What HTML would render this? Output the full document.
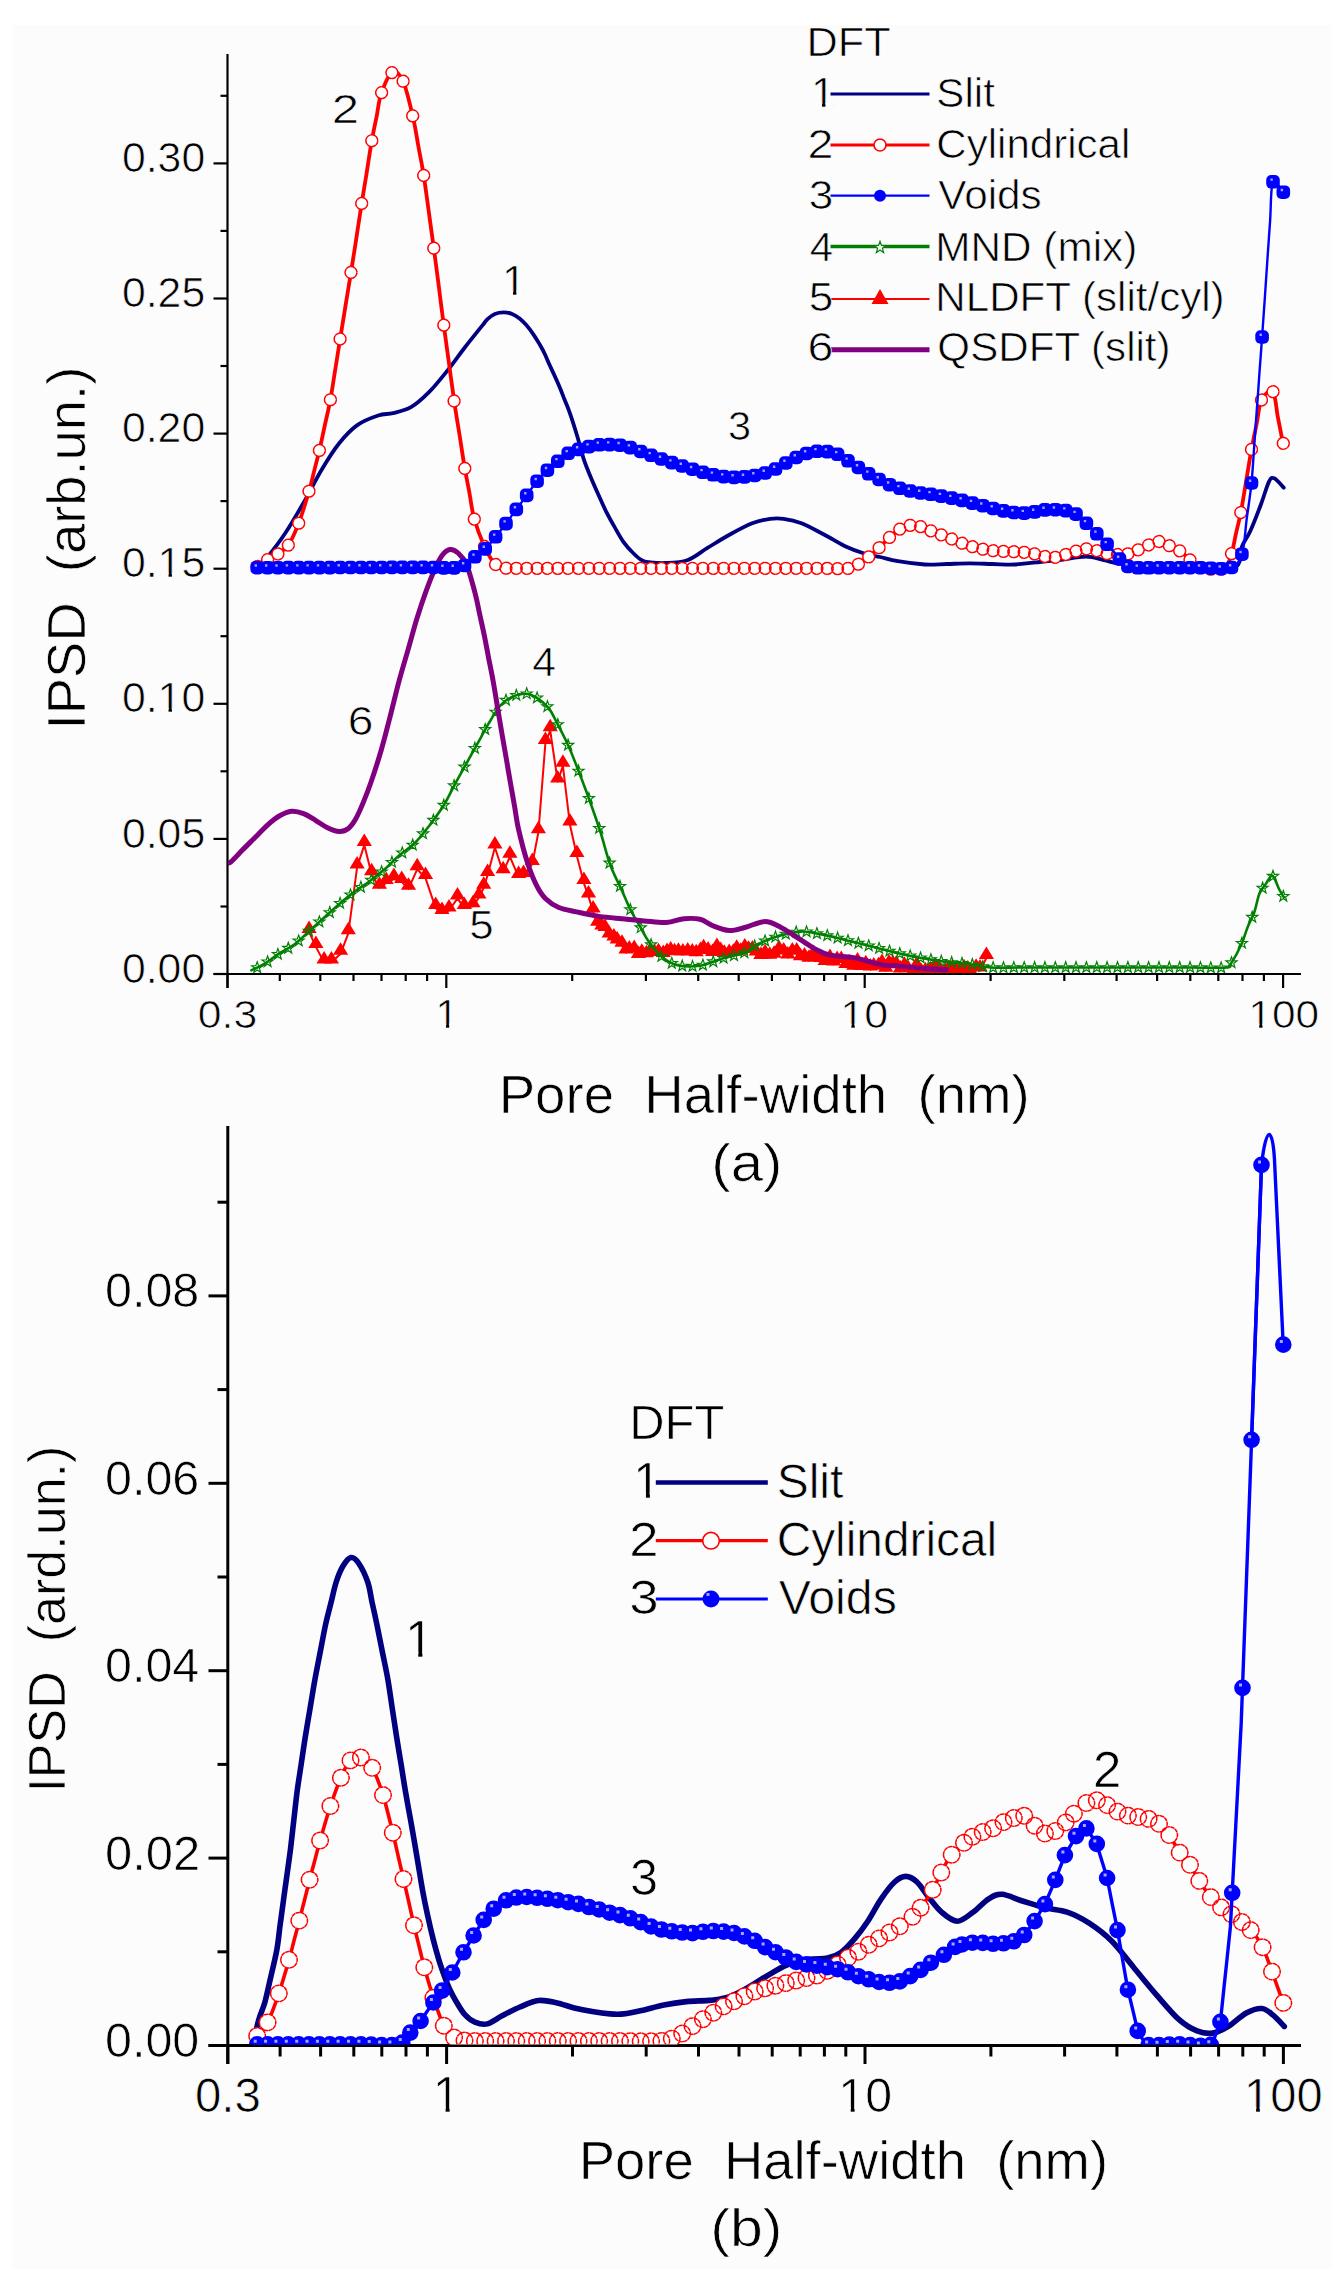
<!DOCTYPE html>
<html><head><meta charset="utf-8"><title>IPSD</title>
<style>html,body{margin:0;padding:0;background:#fff;}svg{display:block;}text{font-family:"Liberation Sans",sans-serif;}</style>
</head><body>
<svg width="1340" height="2284" viewBox="0 0 1340 2284">
<defs><clipPath id="cpT"><rect x="228" y="40" width="1080" height="933"/></clipPath><clipPath id="cpB"><rect x="228" y="1100" width="1080" height="944.5"/></clipPath></defs>
<rect width="1340" height="2284" fill="#ffffff"/>
<rect x="12" y="25" width="1320" height="2244" fill="#fcfcfd"/>
<g stroke="#000" stroke-width="2.2" fill="none" stroke-linecap="butt">
<path d="M227.5,54 L227.5,988"/>
<path d="M213.5,974 L1301,974"/>
<path d="M213.5,974.0 L227.5,974.0"/>
<path d="M213.5,838.9 L227.5,838.9"/>
<path d="M213.5,703.8 L227.5,703.8"/>
<path d="M213.5,568.7 L227.5,568.7"/>
<path d="M213.5,433.6 L227.5,433.6"/>
<path d="M213.5,298.5 L227.5,298.5"/>
<path d="M213.5,163.4 L227.5,163.4"/>
<path d="M220.5,906.5 L227.5,906.5"/>
<path d="M220.5,771.3 L227.5,771.3"/>
<path d="M220.5,636.2 L227.5,636.2"/>
<path d="M220.5,501.1 L227.5,501.1"/>
<path d="M220.5,366.0 L227.5,366.0"/>
<path d="M220.5,230.9 L227.5,230.9"/>
<path d="M220.5,95.8 L227.5,95.8"/>
<path d="M227.5,974 L227.5,988"/>
<path d="M446.3,974 L446.3,988"/>
<path d="M864.7,974 L864.7,988"/>
<path d="M1283.1,974 L1283.1,988"/>
<path d="M279.8,974 L279.8,981"/>
<path d="M320.3,974 L320.3,981"/>
<path d="M353.5,974 L353.5,981"/>
<path d="M381.5,974 L381.5,981"/>
<path d="M405.7,974 L405.7,981"/>
<path d="M427.1,974 L427.1,981"/>
<path d="M572.2,974 L572.2,981"/>
<path d="M645.9,974 L645.9,981"/>
<path d="M698.2,974 L698.2,981"/>
<path d="M738.7,974 L738.7,981"/>
<path d="M771.9,974 L771.9,981"/>
<path d="M799.9,974 L799.9,981"/>
<path d="M824.1,974 L824.1,981"/>
<path d="M845.5,974 L845.5,981"/>
<path d="M990.6,974 L990.6,981"/>
<path d="M1064.3,974 L1064.3,981"/>
<path d="M1116.6,974 L1116.6,981"/>
<path d="M1157.1,974 L1157.1,981"/>
<path d="M1190.3,974 L1190.3,981"/>
<path d="M1218.3,974 L1218.3,981"/>
<path d="M1242.5,974 L1242.5,981"/>
<path d="M1263.9,974 L1263.9,981"/>
</g>
<path d="M830.5,94.0 L929.5,94.0" stroke="#000080" stroke-width="3.2"/>
<path d="M830.5,145.0 L929.5,145.0" stroke="#ff0000" stroke-width="3.2"/>
<circle cx="880" cy="145" r="6" fill="#fff" stroke="#ff0000" stroke-width="1.6"/>
<path d="M830.5,195.7 L929.5,195.7" stroke="#0000ff" stroke-width="2.2"/>
<circle cx="880" cy="195.7" r="6" fill="#0000ff"/>
<path d="M830.5,246.5 L929.5,246.5" stroke="#008000" stroke-width="3.6"/>
<path d="M880.0,241.3 L881.5,245.5 L885.9,245.6 L882.4,248.3 L883.6,252.5 L880.0,250.0 L876.4,252.5 L877.6,248.3 L874.1,245.6 L878.5,245.5Z" fill="#fff" stroke="#008000" stroke-width="1.2"/>
<path d="M830.5,299.0 L929.5,299.0" stroke="#ff0000" stroke-width="2.2"/>
<path d="M880,289 L888.5,304 L871.5,304 Z" fill="#ff0000"/>
<path d="M830.5,349.7 L929.5,349.7" stroke="#800080" stroke-width="5.0"/>
<g clip-path="url(#cpT)" fill="none" stroke-linejoin="round" stroke-linecap="round">
<path d="M309.1,931.9 L315.9,946.9 L324.1,962.4 L331.4,962.4 L340.6,953.7 L348.3,933.3 L357.1,867.4 L364.3,845.1 L371.6,874.2 L379.4,887.8 L386.2,882.9 L393.9,879.0 L401.7,881.9 L408.5,888.7 L417.2,869.3 L425.5,878.1 L435.7,908.1 L442.0,913.0 L449.0,910.5 L457.5,898.4 L464.3,908.1 L473.0,906.2 L478.9,897.5 L483.7,887.8 L487.6,875.1 L494.9,847.5 L503.1,872.2 L509.9,856.7 L518.6,877.1 L523.5,876.1 L532.3,863.9 L538.4,832.3 L545.4,743.0 L550.2,730.3 L557.7,781.5 L562.9,765.8 L569.9,824.5 L576.9,856.0 L583.9,883.1 L588.5,896.4 L593.1,911.4 L597.6,924.8 L601.8,928.6 L605.1,930.1 L609.2,936.6 L613.9,939.4 L617.2,942.4 L622.0,945.8 L626.0,952.5 L629.3,951.5 L634.2,950.9 L638.4,957.0 L641.8,954.7 L646.4,956.3 L650.4,953.5 L654.5,955.0 L658.5,954.2 L663.2,956.1 L667.0,954.1 L670.7,952.5 L674.5,954.3 L678.4,953.7 L682.9,954.4 L687.7,953.5 L692.3,954.5 L696.2,955.3 L700.4,953.0 L703.6,950.2 L708.1,952.5 L712.5,955.1 L716.9,949.0 L720.7,952.9 L724.3,955.7 L729.2,955.0 L733.3,954.7 L736.7,950.8 L740.7,953.7 L744.8,949.5 L748.6,951.7 L752.4,951.5 L756.3,954.4 L760.9,958.0 L765.1,955.2 L769.7,957.7 L774.1,956.7 L779.0,951.3 L783.7,953.4 L787.8,957.5 L792.3,953.4 L796.7,953.4 L800.5,959.3 L804.5,958.4 L809.0,960.7 L813.6,955.9 L817.5,959.9 L820.8,961.1 L825.1,964.0 L830.0,960.1 L833.6,964.5 L837.1,961.9 L841.3,961.9 L845.9,967.1 L849.2,965.2 L853.8,968.7 L857.5,963.4 L862.3,969.1 L865.8,966.2 L870.3,969.5 L873.8,968.6 L878.5,968.3 L882.0,965.0 L885.7,970.8 L889.0,965.6 L892.8,966.3 L896.3,966.4 L900.4,971.5 L904.4,967.8 L908.2,971.2 L913.1,974.2 L916.7,967.5 L921.4,974.2 L925.4,973.3 L930.2,972.4 L935.0,968.6 L938.7,970.5 L942.1,975.2 L945.3,973.7 L948.7,971.5 L952.6,970.3 L956.8,972.7 L960.5,974.2 L964.0,970.3 L967.8,971.6 L971.4,975.4 L976.1,969.7 L980.0,970.6 L986.4,958.0" stroke="#ff0000" stroke-width="2"/>
<path d="M309.1,920.4L316.7,932.9L301.5,932.9ZM315.9,935.4L323.5,947.9L308.3,947.9ZM324.1,950.9L331.7,963.4L316.5,963.4ZM331.4,950.9L339.0,963.4L323.8,963.4ZM340.6,942.2L348.2,954.7L333.0,954.7ZM348.3,921.8L355.9,934.3L340.7,934.3ZM357.1,855.9L364.7,868.4L349.5,868.4ZM364.3,833.6L371.9,846.1L356.7,846.1ZM371.6,862.7L379.2,875.2L364.0,875.2ZM379.4,876.3L387.0,888.8L371.8,888.8ZM386.2,871.4L393.8,883.9L378.6,883.9ZM393.9,867.5L401.5,880.0L386.3,880.0ZM401.7,870.4L409.3,882.9L394.1,882.9ZM408.5,877.2L416.1,889.7L400.9,889.7ZM417.2,857.8L424.8,870.3L409.6,870.3ZM425.5,866.6L433.1,879.1L417.9,879.1ZM435.7,896.6L443.3,909.1L428.1,909.1ZM442.0,901.5L449.6,914.0L434.4,914.0ZM449.0,899.0L456.6,911.5L441.4,911.5ZM457.5,886.9L465.1,899.4L449.9,899.4ZM464.3,896.6L471.9,909.1L456.7,909.1ZM473.0,894.7L480.6,907.2L465.4,907.2ZM478.9,886.0L486.5,898.5L471.3,898.5ZM483.7,876.3L491.3,888.8L476.1,888.8ZM487.6,863.6L495.2,876.1L480.0,876.1ZM494.9,836.0L502.5,848.5L487.3,848.5ZM503.1,860.7L510.7,873.2L495.5,873.2ZM509.9,845.2L517.5,857.7L502.3,857.7ZM518.6,865.6L526.2,878.1L511.0,878.1ZM523.5,864.6L531.1,877.1L515.9,877.1ZM532.3,852.4L539.9,864.9L524.7,864.9ZM538.4,820.8L546.0,833.3L530.8,833.3ZM545.4,731.5L553.0,744.0L537.8,744.0ZM550.2,718.8L557.8,731.3L542.6,731.3ZM557.7,770.0L565.3,782.5L550.1,782.5ZM562.9,754.3L570.5,766.8L555.3,766.8ZM569.9,813.0L577.5,825.5L562.3,825.5ZM576.9,844.5L584.5,857.0L569.3,857.0ZM583.9,871.6L591.5,884.1L576.3,884.1ZM588.5,884.9L596.1,897.4L580.9,897.4ZM593.1,899.9L600.7,912.4L585.5,912.4ZM597.6,913.3L605.2,925.8L590.0,925.8ZM601.8,917.1L609.4,929.6L594.2,929.6ZM605.1,918.6L612.7,931.1L597.5,931.1ZM609.2,925.1L616.8,937.6L601.6,937.6ZM613.9,927.9L621.5,940.4L606.3,940.4ZM617.2,930.9L624.8,943.4L609.6,943.4ZM622.0,934.3L629.6,946.8L614.4,946.8ZM626.0,941.0L633.6,953.5L618.4,953.5ZM629.3,940.0L636.9,952.5L621.7,952.5ZM634.2,939.4L641.8,951.9L626.6,951.9ZM638.4,945.5L646.0,958.0L630.8,958.0ZM641.8,943.2L649.4,955.7L634.2,955.7ZM646.4,944.8L654.0,957.3L638.8,957.3ZM650.4,942.0L658.0,954.5L642.8,954.5ZM654.5,943.5L662.1,956.0L646.9,956.0ZM658.5,942.7L666.1,955.2L650.9,955.2ZM663.2,944.6L670.8,957.1L655.6,957.1ZM667.0,942.6L674.6,955.1L659.4,955.1ZM670.7,941.0L678.3,953.5L663.1,953.5ZM674.5,942.8L682.1,955.3L666.9,955.3ZM678.4,942.2L686.0,954.7L670.8,954.7ZM682.9,942.9L690.5,955.4L675.3,955.4ZM687.7,942.0L695.3,954.5L680.1,954.5ZM692.3,943.0L699.9,955.5L684.7,955.5ZM696.2,943.8L703.8,956.3L688.6,956.3ZM700.4,941.5L708.0,954.0L692.8,954.0ZM703.6,938.7L711.2,951.2L696.0,951.2ZM708.1,941.0L715.7,953.5L700.5,953.5ZM712.5,943.6L720.1,956.1L704.9,956.1ZM716.9,937.5L724.5,950.0L709.3,950.0ZM720.7,941.4L728.3,953.9L713.1,953.9ZM724.3,944.2L731.9,956.7L716.7,956.7ZM729.2,943.5L736.8,956.0L721.6,956.0ZM733.3,943.2L740.9,955.7L725.7,955.7ZM736.7,939.3L744.3,951.8L729.1,951.8ZM740.7,942.2L748.3,954.7L733.1,954.7ZM744.8,938.0L752.4,950.5L737.2,950.5ZM748.6,940.2L756.2,952.7L741.0,952.7ZM752.4,940.0L760.0,952.5L744.8,952.5ZM756.3,942.9L763.9,955.4L748.7,955.4ZM760.9,946.5L768.5,959.0L753.3,959.0ZM765.1,943.7L772.7,956.2L757.5,956.2ZM769.7,946.2L777.3,958.7L762.1,958.7ZM774.1,945.2L781.7,957.7L766.5,957.7ZM779.0,939.8L786.6,952.3L771.4,952.3ZM783.7,941.9L791.3,954.4L776.1,954.4ZM787.8,946.0L795.4,958.5L780.2,958.5ZM792.3,941.9L799.9,954.4L784.7,954.4ZM796.7,941.9L804.3,954.4L789.1,954.4ZM800.5,947.8L808.1,960.3L792.9,960.3ZM804.5,946.9L812.1,959.4L796.9,959.4ZM809.0,949.2L816.6,961.7L801.4,961.7ZM813.6,944.4L821.2,956.9L806.0,956.9ZM817.5,948.4L825.1,960.9L809.9,960.9ZM820.8,949.6L828.4,962.1L813.2,962.1ZM825.1,952.5L832.7,965.0L817.5,965.0ZM830.0,948.6L837.6,961.1L822.4,961.1ZM833.6,953.0L841.2,965.5L826.0,965.5ZM837.1,950.4L844.7,962.9L829.5,962.9ZM841.3,950.4L848.9,962.9L833.7,962.9ZM845.9,955.6L853.5,968.1L838.3,968.1ZM849.2,953.7L856.8,966.2L841.6,966.2ZM853.8,957.2L861.4,969.7L846.2,969.7ZM857.5,951.9L865.1,964.4L849.9,964.4ZM862.3,957.6L869.9,970.1L854.7,970.1ZM865.8,954.7L873.4,967.2L858.2,967.2ZM870.3,958.0L877.9,970.5L862.7,970.5ZM873.8,957.1L881.4,969.6L866.2,969.6ZM878.5,956.8L886.1,969.3L870.9,969.3ZM882.0,953.5L889.6,966.0L874.4,966.0ZM885.7,959.3L893.3,971.8L878.1,971.8ZM889.0,954.1L896.6,966.6L881.4,966.6ZM892.8,954.8L900.4,967.3L885.2,967.3ZM896.3,954.9L903.9,967.4L888.7,967.4ZM900.4,960.0L908.0,972.5L892.8,972.5ZM904.4,956.3L912.0,968.8L896.8,968.8ZM908.2,959.7L915.8,972.2L900.6,972.2ZM913.1,962.7L920.7,975.2L905.5,975.2ZM916.7,956.0L924.3,968.5L909.1,968.5ZM921.4,962.7L929.0,975.2L913.8,975.2ZM925.4,961.8L933.0,974.3L917.8,974.3ZM930.2,960.9L937.8,973.4L922.6,973.4ZM935.0,957.1L942.6,969.6L927.4,969.6ZM938.7,959.0L946.3,971.5L931.1,971.5ZM942.1,963.7L949.7,976.2L934.5,976.2ZM945.3,962.2L952.9,974.7L937.7,974.7ZM948.7,960.0L956.3,972.5L941.1,972.5ZM952.6,958.8L960.2,971.3L945.0,971.3ZM956.8,961.2L964.4,973.7L949.2,973.7ZM960.5,962.7L968.1,975.2L952.9,975.2ZM964.0,958.8L971.6,971.3L956.4,971.3ZM967.8,960.1L975.4,972.6L960.2,972.6ZM971.4,963.9L979.0,976.4L963.8,976.4ZM976.1,958.2L983.7,970.7L968.5,970.7ZM980.0,959.1L987.6,971.6L972.4,971.6ZM986.4,946.5L994.0,959.0L978.8,959.0Z" fill="#ff0000" stroke="none"/>
<path d="M251.3,970.3 C253.6,969.2 260.1,966.5 264.8,963.6 C269.5,960.7 274.7,956.3 279.7,953.1 C284.7,949.9 289.6,947.9 294.6,944.2 C299.6,940.5 304.6,935.2 309.6,930.7 C314.6,926.2 319.5,921.8 324.5,917.3 C329.5,912.8 334.4,908.1 339.4,903.9 C344.4,899.7 349.3,895.6 354.3,891.9 C359.3,888.2 364.3,885.2 369.3,881.5 C374.3,877.8 379.2,873.9 384.2,869.6 C389.2,865.3 394.0,859.9 399.1,855.5 C404.2,851.1 409.6,848.2 414.8,843.0 C420.0,837.8 425.5,830.5 430.4,824.2 C435.2,817.9 439.8,811.7 443.9,805.0 C448.0,798.3 451.4,790.8 455.1,783.9 C458.8,777.0 462.6,770.4 466.3,763.7 C470.0,757.0 473.8,750.3 477.5,743.6 C481.2,736.9 484.9,729.8 488.7,723.4 C492.5,717.0 496.6,709.9 500.3,705.5 C504.0,701.1 506.9,699.3 511.1,697.3 C515.3,695.3 521.2,693.7 525.4,693.7 C529.6,693.7 532.2,694.9 536.1,697.3 C540.0,699.7 545.1,703.6 548.7,708.1 C552.3,712.6 554.3,717.9 557.6,724.2 C560.9,730.5 564.8,737.7 568.4,745.7 C572.0,753.8 575.5,763.2 579.1,772.5 C582.7,781.8 586.3,791.2 589.9,801.2 C593.5,811.2 597.2,821.9 600.6,832.5 C604.0,843.1 606.8,855.5 610.3,865.0 C613.8,874.5 618.1,882.1 621.5,889.6 C624.9,897.1 627.4,903.7 630.4,909.7 C633.4,915.7 636.4,920.2 639.4,925.4 C642.4,930.6 644.7,935.8 648.4,941.0 C652.1,946.2 656.9,952.7 661.8,956.7 C666.6,960.7 671.1,963.7 677.5,965.2 C683.9,966.7 692.4,966.8 699.9,965.7 C707.4,964.6 714.9,960.7 722.4,958.5 C729.9,956.3 738.8,954.9 744.8,952.5 C750.8,950.1 752.6,946.7 758.2,944.0 C763.8,941.3 771.3,938.2 778.4,936.1 C785.5,934.0 794.0,932.0 800.7,931.6 C807.4,931.2 813.1,933.0 818.7,933.9 C824.3,934.8 828.0,935.7 834.3,937.2 C840.6,938.7 849.2,940.9 856.7,942.8 C864.2,944.7 871.6,946.5 879.1,948.4 C886.6,950.3 894.0,952.3 901.5,954.0 C909.0,955.7 916.4,957.2 923.9,958.5 C931.4,959.8 938.8,961.0 946.3,961.9 C953.8,962.8 961.2,963.1 968.7,964.0 C976.2,964.9 982.5,966.9 991.0,967.5 C999.5,968.1 1009.4,967.5 1020.0,967.5 C1030.6,967.5 1042.9,967.5 1054.4,967.5 C1065.9,967.5 1077.3,967.5 1088.8,967.5 C1100.3,967.5 1111.7,967.5 1123.2,967.5 C1134.7,967.5 1146.1,967.5 1157.6,967.5 C1169.1,967.5 1180.5,967.5 1192.0,967.5 C1203.5,967.5 1219.8,968.3 1226.4,967.5 C1233.0,966.7 1228.9,966.7 1231.4,962.9 C1233.9,959.1 1238.5,950.8 1241.2,944.8 C1243.9,938.8 1245.6,932.2 1247.8,926.7 C1250.0,921.2 1252.5,917.5 1254.4,912.0 C1256.3,906.5 1257.4,898.6 1259.3,893.9 C1261.2,889.2 1263.6,887.0 1265.8,884.0 C1268.0,881.0 1270.2,875.0 1272.4,875.8 C1274.6,876.6 1277.1,885.4 1279.0,889.0 C1280.9,892.6 1283.1,895.8 1283.9,897.2" stroke="#008000" stroke-width="2.6"/>
<path d="M257.2,961.8 L258.6,965.7 L262.7,965.8 L259.4,968.3 L260.6,972.3 L257.2,969.9 L253.8,972.3 L255.0,968.3 L251.7,965.8 L255.8,965.7ZM267.6,956.0 L268.9,959.9 L273.1,960.0 L269.8,962.5 L271.0,966.5 L267.6,964.1 L264.2,966.5 L265.4,962.5 L262.0,960.0 L266.2,959.9ZM277.9,948.5 L279.3,952.4 L283.4,952.5 L280.1,955.0 L281.3,959.0 L277.9,956.6 L274.5,959.0 L275.7,955.0 L272.4,952.5 L276.6,952.4ZM288.3,942.4 L289.7,946.3 L293.8,946.4 L290.5,948.9 L291.7,952.9 L288.3,950.5 L284.9,952.9 L286.1,948.9 L282.8,946.4 L286.9,946.3ZM298.7,935.1 L300.0,939.0 L304.2,939.1 L300.9,941.6 L302.1,945.6 L298.7,943.2 L295.3,945.6 L296.5,941.6 L293.1,939.1 L297.3,939.0ZM309.0,925.4 L310.4,929.3 L314.5,929.4 L311.2,931.9 L312.4,935.9 L309.0,933.5 L305.6,935.9 L306.8,931.9 L303.5,929.4 L307.7,929.3ZM319.4,916.1 L320.8,920.0 L324.9,920.1 L321.6,922.6 L322.8,926.6 L319.4,924.2 L316.0,926.6 L317.2,922.6 L313.9,920.1 L318.0,920.0ZM329.8,906.7 L331.1,910.6 L335.3,910.7 L332.0,913.2 L333.2,917.2 L329.8,914.8 L326.3,917.2 L327.5,913.2 L324.2,910.7 L328.4,910.6ZM340.1,897.5 L341.5,901.4 L345.6,901.5 L342.3,904.0 L343.5,908.0 L340.1,905.6 L336.7,908.0 L337.9,904.0 L334.6,901.5 L338.8,901.4ZM350.5,889.0 L351.8,892.9 L356.0,893.0 L352.7,895.5 L353.9,899.5 L350.5,897.1 L347.1,899.5 L348.3,895.5 L345.0,893.0 L349.1,892.9ZM360.9,881.5 L362.2,885.5 L366.4,885.5 L363.1,888.0 L364.3,892.0 L360.9,889.6 L357.4,892.0 L358.6,888.0 L355.3,885.5 L359.5,885.5ZM371.2,874.3 L372.6,878.2 L376.7,878.3 L373.4,880.8 L374.6,884.8 L371.2,882.4 L367.8,884.8 L369.0,880.8 L365.7,878.3 L369.9,878.2ZM381.6,866.0 L382.9,870.0 L387.1,870.1 L383.8,872.6 L385.0,876.5 L381.6,874.2 L378.2,876.5 L379.4,872.6 L376.1,870.1 L380.2,870.0ZM391.9,856.4 L393.3,860.4 L397.5,860.5 L394.2,863.0 L395.4,866.9 L391.9,864.6 L388.5,866.9 L389.7,863.0 L386.4,860.5 L390.6,860.4ZM402.3,847.1 L403.7,851.0 L407.8,851.1 L404.5,853.6 L405.7,857.6 L402.3,855.2 L398.9,857.6 L400.1,853.6 L396.8,851.1 L400.9,851.0ZM412.7,839.2 L414.0,843.1 L418.2,843.2 L414.9,845.7 L416.1,849.7 L412.7,847.3 L409.3,849.7 L410.5,845.7 L407.2,843.2 L411.3,843.1ZM423.0,827.8 L424.4,831.8 L428.6,831.9 L425.2,834.4 L426.4,838.3 L423.0,836.0 L419.6,838.3 L420.8,834.4 L417.5,831.9 L421.7,831.8ZM433.4,814.4 L434.8,818.4 L438.9,818.4 L435.6,821.0 L436.8,824.9 L433.4,822.6 L430.0,824.9 L431.2,821.0 L427.9,818.4 L432.0,818.4ZM443.8,799.4 L445.1,803.3 L449.3,803.4 L446.0,805.9 L447.2,809.9 L443.8,807.5 L440.4,809.9 L441.6,805.9 L438.3,803.4 L442.4,803.3ZM454.1,779.9 L455.5,783.8 L459.7,783.9 L456.3,786.4 L457.5,790.4 L454.1,788.0 L450.7,790.4 L451.9,786.4 L448.6,783.9 L452.8,783.8ZM464.5,761.1 L465.9,765.1 L470.0,765.1 L466.7,767.6 L467.9,771.6 L464.5,769.3 L461.1,771.6 L462.3,767.6 L459.0,765.1 L463.1,765.1ZM474.9,742.5 L476.2,746.5 L480.4,746.5 L477.1,749.1 L478.3,753.0 L474.9,750.7 L471.5,753.0 L472.7,749.1 L469.3,746.5 L473.5,746.5ZM485.2,723.6 L486.6,727.6 L490.7,727.6 L487.4,730.2 L488.6,734.1 L485.2,731.8 L481.8,734.1 L483.0,730.2 L479.7,727.6 L483.9,727.6ZM495.6,706.2 L497.0,710.1 L501.1,710.2 L497.8,712.7 L499.0,716.7 L495.6,714.3 L492.2,716.7 L493.4,712.7 L490.1,710.2 L494.2,710.1ZM506.0,694.4 L507.3,698.3 L511.5,698.4 L508.2,700.9 L509.4,704.9 L506.0,702.5 L502.6,704.9 L503.8,700.9 L500.4,698.4 L504.6,698.3ZM516.3,689.5 L517.7,693.4 L521.8,693.5 L518.5,696.0 L519.7,700.0 L516.3,697.6 L512.9,700.0 L514.1,696.0 L510.8,693.5 L515.0,693.4ZM526.7,687.9 L528.1,691.9 L532.2,692.0 L528.9,694.5 L530.1,698.4 L526.7,696.1 L523.3,698.4 L524.5,694.5 L521.2,692.0 L525.3,691.9ZM537.1,692.1 L538.4,696.0 L542.6,696.1 L539.3,698.6 L540.5,702.6 L537.1,700.2 L533.6,702.6 L534.8,698.6 L531.5,696.1 L535.7,696.0ZM547.4,700.8 L548.8,704.7 L552.9,704.8 L549.6,707.3 L550.8,711.3 L547.4,708.9 L544.0,711.3 L545.2,707.3 L541.9,704.8 L546.1,704.7ZM557.8,718.8 L559.1,722.7 L563.3,722.8 L560.0,725.3 L561.2,729.2 L557.8,726.9 L554.4,729.2 L555.6,725.3 L552.3,722.8 L556.4,722.7ZM568.1,739.3 L569.5,743.3 L573.7,743.4 L570.4,745.9 L571.6,749.8 L568.1,747.5 L564.7,749.8 L565.9,745.9 L562.6,743.4 L566.8,743.3ZM578.5,765.2 L579.9,769.1 L584.0,769.2 L580.7,771.7 L581.9,775.7 L578.5,773.3 L575.1,775.7 L576.3,771.7 L573.0,769.2 L577.2,769.1ZM588.9,792.6 L590.2,796.5 L594.4,796.6 L591.1,799.1 L592.3,803.1 L588.9,800.7 L585.5,803.1 L586.7,799.1 L583.4,796.6 L587.5,796.5ZM599.2,822.5 L600.6,826.4 L604.8,826.5 L601.5,829.0 L602.7,833.0 L599.2,830.6 L595.8,833.0 L597.0,829.0 L593.7,826.5 L597.9,826.4ZM609.6,857.2 L611.0,861.2 L615.1,861.2 L611.8,863.8 L613.0,867.7 L609.6,865.4 L606.2,867.7 L607.4,863.8 L604.1,861.2 L608.2,861.2ZM620.0,880.5 L621.3,884.5 L625.5,884.5 L622.2,887.0 L623.4,891.0 L620.0,888.6 L616.6,891.0 L617.8,887.0 L614.5,884.5 L618.6,884.5ZM630.3,903.8 L631.7,907.7 L635.9,907.8 L632.5,910.3 L633.7,914.3 L630.3,911.9 L626.9,914.3 L628.1,910.3 L624.8,907.8 L629.0,907.7ZM640.7,921.9 L642.1,925.9 L646.2,925.9 L642.9,928.5 L644.1,932.4 L640.7,930.1 L637.3,932.4 L638.5,928.5 L635.2,925.9 L639.3,925.9ZM651.1,938.9 L652.4,942.8 L656.6,942.9 L653.3,945.4 L654.5,949.4 L651.1,947.0 L647.7,949.4 L648.9,945.4 L645.6,942.9 L649.7,942.8ZM661.4,950.6 L662.8,954.5 L667.0,954.6 L663.6,957.1 L664.8,961.1 L661.4,958.7 L658.0,961.1 L659.2,957.1 L655.9,954.6 L660.1,954.5ZM671.8,957.5 L673.2,961.4 L677.3,961.5 L674.0,964.0 L675.2,968.0 L671.8,965.6 L668.4,968.0 L669.6,964.0 L666.3,961.5 L670.4,961.4ZM682.2,960.2 L683.5,964.1 L687.7,964.2 L684.4,966.7 L685.6,970.7 L682.2,968.3 L678.8,970.7 L680.0,966.7 L676.6,964.2 L680.8,964.1ZM692.5,960.6 L693.9,964.5 L698.0,964.6 L694.7,967.1 L695.9,971.1 L692.5,968.7 L689.1,971.1 L690.3,967.1 L687.0,964.6 L691.2,964.5ZM702.9,959.3 L704.3,963.2 L708.4,963.3 L705.1,965.8 L706.3,969.8 L702.9,967.4 L699.5,969.8 L700.7,965.8 L697.4,963.3 L701.5,963.2ZM713.3,955.9 L714.6,959.8 L718.8,959.9 L715.5,962.4 L716.7,966.4 L713.3,964.0 L709.9,966.4 L711.1,962.4 L707.7,959.9 L711.9,959.8ZM723.6,952.4 L725.0,956.3 L729.1,956.4 L725.8,958.9 L727.0,962.8 L723.6,960.5 L720.2,962.8 L721.4,958.9 L718.1,956.4 L722.3,956.3ZM734.0,949.8 L735.4,953.7 L739.5,953.8 L736.2,956.3 L737.4,960.3 L734.0,957.9 L730.6,960.3 L731.8,956.3 L728.5,953.8 L732.6,953.7ZM744.4,946.9 L745.7,950.8 L749.9,950.9 L746.6,953.4 L747.8,957.4 L744.4,955.0 L740.9,957.4 L742.1,953.4 L738.8,950.9 L743.0,950.8ZM754.7,940.2 L756.1,944.2 L760.2,944.3 L756.9,946.8 L758.1,950.7 L754.7,948.4 L751.3,950.7 L752.5,946.8 L749.2,944.3 L753.4,944.2ZM765.1,935.1 L766.4,939.0 L770.6,939.1 L767.3,941.6 L768.5,945.6 L765.1,943.2 L761.7,945.6 L762.9,941.6 L759.6,939.1 L763.7,939.0ZM775.5,931.2 L776.8,935.1 L781.0,935.2 L777.7,937.7 L778.9,941.7 L775.5,939.3 L772.0,941.7 L773.2,937.7 L769.9,935.2 L774.1,935.1ZM785.8,928.3 L787.2,932.2 L791.3,932.3 L788.0,934.8 L789.2,938.8 L785.8,936.4 L782.4,938.8 L783.6,934.8 L780.3,932.3 L784.5,932.2ZM796.2,926.3 L797.5,930.2 L801.7,930.3 L798.4,932.8 L799.6,936.7 L796.2,934.4 L792.8,936.7 L794.0,932.8 L790.7,930.3 L794.8,930.2ZM806.5,926.0 L807.9,929.9 L812.1,930.0 L808.8,932.5 L810.0,936.5 L806.5,934.1 L803.1,936.5 L804.3,932.5 L801.0,930.0 L805.2,929.9ZM816.9,927.8 L818.3,931.7 L822.4,931.8 L819.1,934.3 L820.3,938.3 L816.9,935.9 L813.5,938.3 L814.7,934.3 L811.4,931.8 L815.5,931.7ZM827.3,929.8 L828.6,933.7 L832.8,933.8 L829.5,936.3 L830.7,940.3 L827.3,937.9 L823.9,940.3 L825.1,936.3 L821.8,933.8 L825.9,933.7ZM837.6,932.2 L839.0,936.1 L843.2,936.2 L839.8,938.7 L841.0,942.7 L837.6,940.3 L834.2,942.7 L835.4,938.7 L832.1,936.2 L836.3,936.1ZM848.0,934.8 L849.4,938.7 L853.5,938.8 L850.2,941.3 L851.4,945.3 L848.0,942.9 L844.6,945.3 L845.8,941.3 L842.5,938.8 L846.6,938.7ZM858.4,937.4 L859.7,941.3 L863.9,941.4 L860.6,943.9 L861.8,947.9 L858.4,945.5 L855.0,947.9 L856.2,943.9 L852.9,941.4 L857.0,941.3ZM868.7,940.0 L870.1,943.9 L874.3,944.0 L870.9,946.5 L872.1,950.5 L868.7,948.1 L865.3,950.5 L866.5,946.5 L863.2,944.0 L867.4,943.9ZM879.1,942.6 L880.5,946.5 L884.6,946.6 L881.3,949.1 L882.5,953.1 L879.1,950.7 L875.7,953.1 L876.9,949.1 L873.6,946.6 L877.7,946.5ZM889.5,945.3 L890.8,949.2 L895.0,949.3 L891.7,951.8 L892.9,955.7 L889.5,953.4 L886.1,955.7 L887.3,951.8 L883.9,949.3 L888.1,949.2ZM899.8,947.8 L901.2,951.7 L905.3,951.8 L902.0,954.3 L903.2,958.3 L899.8,955.9 L896.4,958.3 L897.6,954.3 L894.3,951.8 L898.5,951.7ZM910.2,950.1 L911.6,954.0 L915.7,954.1 L912.4,956.6 L913.6,960.6 L910.2,958.2 L906.8,960.6 L908.0,956.6 L904.7,954.1 L908.8,954.0ZM920.6,952.1 L921.9,956.0 L926.1,956.1 L922.8,958.6 L924.0,962.6 L920.6,960.2 L917.2,962.6 L918.4,958.6 L915.0,956.1 L919.2,956.0ZM930.9,953.9 L932.3,957.8 L936.4,957.9 L933.1,960.4 L934.3,964.4 L930.9,962.0 L927.5,964.4 L928.7,960.4 L925.4,957.9 L929.6,957.8ZM941.3,955.4 L942.7,959.4 L946.8,959.5 L943.5,962.0 L944.7,965.9 L941.3,963.6 L937.9,965.9 L939.1,962.0 L935.8,959.5 L939.9,959.4ZM951.7,956.7 L953.0,960.6 L957.2,960.7 L953.9,963.2 L955.1,967.2 L951.7,964.8 L948.2,967.2 L949.4,963.2 L946.1,960.7 L950.3,960.6ZM962.0,957.5 L963.4,961.4 L967.5,961.5 L964.2,964.0 L965.4,968.0 L962.0,965.6 L958.6,968.0 L959.8,964.0 L956.5,961.5 L960.7,961.4ZM972.4,958.7 L973.7,962.7 L977.9,962.8 L974.6,965.3 L975.8,969.2 L972.4,966.9 L969.0,969.2 L970.2,965.3 L966.9,962.8 L971.0,962.7ZM982.8,960.7 L984.1,964.6 L988.3,964.7 L985.0,967.2 L986.2,971.2 L982.8,968.8 L979.3,971.2 L980.5,967.2 L977.2,964.7 L981.4,964.6ZM993.1,961.8 L994.5,965.7 L998.6,965.8 L995.3,968.3 L996.5,972.3 L993.1,969.9 L989.7,972.3 L990.9,968.3 L987.6,965.8 L991.8,965.7ZM1003.5,961.9 L1004.8,965.9 L1009.0,965.9 L1005.7,968.5 L1006.9,972.4 L1003.5,970.1 L1000.1,972.4 L1001.3,968.5 L998.0,965.9 L1002.1,965.9ZM1013.8,961.8 L1015.2,965.7 L1019.4,965.8 L1016.1,968.3 L1017.3,972.2 L1013.8,969.9 L1010.4,972.2 L1011.6,968.3 L1008.3,965.8 L1012.5,965.7ZM1024.2,961.7 L1025.6,965.6 L1029.7,965.7 L1026.4,968.2 L1027.6,972.2 L1024.2,969.8 L1020.8,972.2 L1022.0,968.2 L1018.7,965.7 L1022.8,965.6ZM1034.6,961.7 L1035.9,965.6 L1040.1,965.7 L1036.8,968.2 L1038.0,972.2 L1034.6,969.8 L1031.2,972.2 L1032.4,968.2 L1029.1,965.7 L1033.2,965.6ZM1044.9,961.7 L1046.3,965.6 L1050.5,965.7 L1047.1,968.2 L1048.3,972.2 L1044.9,969.8 L1041.5,972.2 L1042.7,968.2 L1039.4,965.7 L1043.6,965.6ZM1055.3,961.7 L1056.7,965.6 L1060.8,965.7 L1057.5,968.2 L1058.7,972.2 L1055.3,969.8 L1051.9,972.2 L1053.1,968.2 L1049.8,965.7 L1053.9,965.6ZM1065.7,961.7 L1067.0,965.6 L1071.2,965.7 L1067.9,968.2 L1069.1,972.2 L1065.7,969.8 L1062.3,972.2 L1063.5,968.2 L1060.2,965.7 L1064.3,965.6ZM1076.0,961.7 L1077.4,965.6 L1081.6,965.7 L1078.2,968.2 L1079.4,972.2 L1076.0,969.8 L1072.6,972.2 L1073.8,968.2 L1070.5,965.7 L1074.7,965.6ZM1086.4,961.7 L1087.8,965.6 L1091.9,965.7 L1088.6,968.2 L1089.8,972.2 L1086.4,969.8 L1083.0,972.2 L1084.2,968.2 L1080.9,965.7 L1085.0,965.6ZM1096.8,961.7 L1098.1,965.6 L1102.3,965.7 L1099.0,968.2 L1100.2,972.2 L1096.8,969.8 L1093.4,972.2 L1094.6,968.2 L1091.2,965.7 L1095.4,965.6ZM1107.1,961.7 L1108.5,965.6 L1112.6,965.7 L1109.3,968.2 L1110.5,972.2 L1107.1,969.8 L1103.7,972.2 L1104.9,968.2 L1101.6,965.7 L1105.8,965.6ZM1117.5,961.7 L1118.9,965.6 L1123.0,965.7 L1119.7,968.2 L1120.9,972.2 L1117.5,969.8 L1114.1,972.2 L1115.3,968.2 L1112.0,965.7 L1116.1,965.6ZM1127.9,961.7 L1129.2,965.6 L1133.4,965.7 L1130.1,968.2 L1131.3,972.2 L1127.9,969.8 L1124.5,972.2 L1125.7,968.2 L1122.3,965.7 L1126.5,965.6ZM1138.2,961.7 L1139.6,965.6 L1143.7,965.7 L1140.4,968.2 L1141.6,972.2 L1138.2,969.8 L1134.8,972.2 L1136.0,968.2 L1132.7,965.7 L1136.9,965.6ZM1148.6,961.7 L1150.0,965.6 L1154.1,965.7 L1150.8,968.2 L1152.0,972.2 L1148.6,969.8 L1145.2,972.2 L1146.4,968.2 L1143.1,965.7 L1147.2,965.6ZM1159.0,961.7 L1160.3,965.6 L1164.5,965.7 L1161.2,968.2 L1162.4,972.2 L1159.0,969.8 L1155.5,972.2 L1156.7,968.2 L1153.4,965.7 L1157.6,965.6ZM1169.3,961.7 L1170.7,965.6 L1174.8,965.7 L1171.5,968.2 L1172.7,972.2 L1169.3,969.8 L1165.9,972.2 L1167.1,968.2 L1163.8,965.7 L1168.0,965.6ZM1179.7,961.7 L1181.0,965.6 L1185.2,965.7 L1181.9,968.2 L1183.1,972.2 L1179.7,969.8 L1176.3,972.2 L1177.5,968.2 L1174.2,965.7 L1178.3,965.6ZM1190.0,961.7 L1191.4,965.6 L1195.6,965.7 L1192.3,968.2 L1193.5,972.2 L1190.0,969.8 L1186.6,972.2 L1187.8,968.2 L1184.5,965.7 L1188.7,965.6ZM1200.4,961.8 L1201.8,965.7 L1205.9,965.8 L1202.6,968.3 L1203.8,972.3 L1200.4,969.9 L1197.0,972.3 L1198.2,968.3 L1194.9,965.8 L1199.1,965.7ZM1210.8,962.0 L1212.1,965.9 L1216.3,966.0 L1213.0,968.5 L1214.2,972.5 L1210.8,970.1 L1207.4,972.5 L1208.6,968.5 L1205.3,966.0 L1209.4,965.9ZM1221.1,962.0 L1222.5,965.9 L1226.7,966.0 L1223.4,968.5 L1224.6,972.5 L1221.1,970.1 L1217.7,972.5 L1218.9,968.5 L1215.6,966.0 L1219.8,965.9ZM1231.5,956.9 L1232.9,960.9 L1237.0,960.9 L1233.7,963.4 L1234.9,967.4 L1231.5,965.0 L1228.1,967.4 L1229.3,963.4 L1226.0,960.9 L1230.1,960.9ZM1241.9,937.4 L1243.2,941.4 L1247.4,941.5 L1244.1,944.0 L1245.3,947.9 L1241.9,945.6 L1238.5,947.9 L1239.7,944.0 L1236.4,941.5 L1240.5,941.4ZM1252.2,911.4 L1253.6,915.3 L1257.8,915.4 L1254.4,917.9 L1255.6,921.9 L1252.2,919.5 L1248.8,921.9 L1250.0,917.9 L1246.7,915.4 L1250.9,915.3ZM1262.6,882.3 L1264.0,886.2 L1268.1,886.3 L1264.8,888.8 L1266.0,892.8 L1262.6,890.4 L1259.2,892.8 L1260.4,888.8 L1257.1,886.3 L1261.2,886.2ZM1273.0,870.4 L1274.3,874.3 L1278.5,874.4 L1275.2,876.9 L1276.4,880.9 L1273.0,878.5 L1269.6,880.9 L1270.8,876.9 L1267.5,874.4 L1271.6,874.3ZM1283.3,890.5 L1284.7,894.4 L1288.9,894.5 L1285.5,897.0 L1286.7,901.0 L1283.3,898.6 L1279.9,901.0 L1281.1,897.0 L1277.8,894.5 L1282.0,894.4Z" stroke="#008000" stroke-width="1.2" fill="none" stroke-linejoin="miter"/>
<path d="M228.5,863.0 C228.9,862.8 228.9,863.8 231.2,861.6 C233.5,859.5 238.6,854.0 242.4,850.1 C246.2,846.2 250.1,842.4 254.3,838.2 C258.5,834.0 263.6,828.5 267.8,824.8 C272.0,821.1 275.7,818.0 279.7,815.8 C283.7,813.5 287.6,811.7 291.6,811.3 C295.6,810.9 299.6,812.1 303.6,813.6 C307.6,815.1 311.5,817.9 315.5,820.3 C319.5,822.7 323.5,825.9 327.5,827.8 C331.5,829.7 335.9,831.4 339.4,831.5 C342.9,831.6 345.7,830.6 348.4,828.5 C351.1,826.4 353.3,823.1 355.8,818.8 C358.3,814.4 360.8,808.4 363.3,802.4 C365.8,796.4 367.7,791.7 370.7,783.0 C373.7,774.3 378.0,761.3 381.2,750.3 C384.4,739.2 387.1,728.3 390.1,716.7 C393.1,705.1 396.1,692.1 399.1,680.9 C402.1,669.7 405.1,660.0 408.1,649.6 C411.1,639.2 414.0,627.9 417.0,618.2 C420.0,608.5 423.0,599.5 426.0,591.3 C429.0,583.1 432.2,575.0 434.9,569.0 C437.6,563.0 439.5,558.8 442.0,555.5 C444.5,552.2 447.2,549.9 449.9,549.5 C452.6,549.1 455.3,550.6 458.0,553.0 C460.7,555.4 463.4,557.2 466.3,564.0 C469.2,570.8 473.0,585.2 475.2,593.6 C477.4,602.0 478.2,607.4 479.7,614.3 C481.2,621.2 482.7,627.7 484.2,635.0 C485.7,642.3 487.2,650.3 488.6,658.0 C490.1,665.6 491.6,672.6 493.1,680.9 C494.6,689.2 496.1,698.8 497.6,707.8 C499.1,716.7 500.6,725.8 502.1,734.6 C503.6,743.4 505.1,751.8 506.6,760.4 C508.0,768.9 509.6,778.2 511.0,786.1 C512.4,794.0 513.5,800.4 514.8,807.6 C516.0,814.8 516.4,819.9 518.5,829.1 C520.6,838.3 524.5,853.4 527.5,862.7 C530.5,872.0 533.4,879.1 536.4,885.1 C539.4,891.1 541.7,894.8 545.4,898.5 C549.1,902.2 553.6,905.3 558.8,907.5 C564.0,909.7 570.0,910.4 576.7,911.9 C583.4,913.4 591.6,915.3 599.1,916.4 C606.6,917.5 614.0,918.0 621.5,918.7 C629.0,919.5 636.4,920.3 643.9,920.9 C651.4,921.5 659.6,922.9 666.3,922.5 C673.0,922.1 678.6,919.2 684.2,918.7 C689.8,918.2 695.1,918.1 700.0,919.3 C704.9,920.5 708.5,924.1 713.4,926.0 C718.2,927.9 723.9,930.2 729.1,930.5 C734.3,930.8 738.8,929.0 744.8,927.5 C750.8,926.0 758.9,921.6 764.9,921.6 C770.9,921.6 775.0,924.4 780.6,927.2 C786.2,930.0 792.5,934.7 798.5,938.4 C804.5,942.1 811.2,946.8 816.4,949.6 C821.6,952.4 823.9,953.8 829.9,955.1 C835.9,956.4 845.5,956.3 852.2,957.4 C858.9,958.5 864.9,960.6 870.1,961.9 C875.3,963.2 878.4,964.5 883.6,965.2 C888.8,965.9 894.8,965.7 901.5,966.3 C908.2,966.9 916.4,968.0 923.9,968.6 C931.4,969.2 942.6,969.5 946.3,969.7" stroke="#800080" stroke-width="5"/>
<path d="M256.0,567.0 C258.0,565.2 262.9,562.1 267.8,556.4 C272.8,550.6 279.7,541.5 285.7,532.5 C291.7,523.5 297.6,513.1 303.6,502.7 C309.6,492.3 315.5,479.8 321.5,469.9 C327.5,459.9 333.4,450.5 339.4,443.0 C345.4,435.5 350.8,429.7 357.3,425.1 C363.8,420.5 372.2,417.5 378.2,415.5 C384.2,413.5 387.6,414.5 393.1,413.1 C398.6,411.7 405.0,410.7 411.0,407.2 C417.0,403.7 423.0,398.2 429.0,392.2 C435.0,386.2 440.9,378.8 446.9,371.3 C452.9,363.9 458.8,355.2 464.8,347.5 C470.8,339.8 478.9,329.8 482.7,325.1 C486.5,320.4 485.5,321.0 487.5,319.1 C489.5,317.2 492.2,315.0 494.9,313.9 C497.6,312.8 501.0,312.4 503.9,312.4 C506.8,312.4 509.5,312.9 512.1,313.9 C514.7,314.9 517.2,316.5 519.6,318.4 C522.0,320.3 523.9,322.4 526.3,325.1 C528.6,327.8 531.5,331.6 533.7,334.8 C535.9,338.0 537.8,341.3 539.7,344.5 C541.6,347.7 543.3,350.8 544.9,354.2 C546.5,357.6 547.8,361.0 549.4,364.6 C551.0,368.2 552.9,371.9 554.6,375.8 C556.4,379.7 558.3,383.9 559.9,387.8 C561.5,391.7 562.7,394.9 564.3,399.0 C565.9,403.1 567.5,406.2 569.6,412.4 C571.8,418.6 574.8,428.1 577.2,436.0 C579.6,443.9 581.5,452.6 583.9,459.7 C586.2,466.8 588.8,472.4 591.3,478.4 C593.8,484.4 596.3,489.9 598.8,495.5 C601.3,501.1 603.7,506.7 606.3,511.9 C608.9,517.1 611.6,521.9 614.5,526.9 C617.4,531.9 620.3,537.4 623.4,541.8 C626.5,546.1 630.0,549.9 633.1,553.0 C636.2,556.1 639.4,558.9 642.1,560.4 C644.8,561.9 645.5,561.8 649.3,562.2 C653.1,562.6 658.7,563.3 665.0,563.0 C671.3,562.7 680.2,562.7 687.3,560.2 C694.4,557.7 700.4,552.2 707.5,547.9 C714.6,543.6 722.4,538.6 729.9,534.5 C737.4,530.4 745.5,525.9 752.2,523.3 C758.9,520.7 764.9,519.5 770.1,518.8 C775.3,518.0 778.4,518.0 783.6,518.8 C788.8,519.5 794.8,520.7 801.5,523.3 C808.2,525.9 816.4,530.6 823.9,534.5 C831.4,538.4 839.6,543.6 846.3,546.8 C853.0,550.0 858.6,551.8 864.2,553.5 C869.8,555.2 874.4,555.7 880.0,557.0 C885.6,558.3 890.4,560.0 897.9,561.2 C905.4,562.5 916.6,564.0 924.8,564.5 C933.0,565.0 939.7,564.1 947.2,564.0 C954.7,563.8 962.1,563.4 969.6,563.4 C977.1,563.4 984.5,563.8 992.0,564.0 C999.4,564.1 1006.8,564.8 1014.3,564.5 C1021.8,564.2 1029.2,563.0 1036.7,562.3 C1044.2,561.6 1050.9,561.0 1059.1,560.1 C1067.3,559.2 1078.5,556.7 1086.0,556.7 C1093.5,556.7 1098.7,559.0 1103.9,560.1 C1109.1,561.2 1111.3,562.3 1117.3,563.4 C1123.3,564.5 1130.9,566.0 1140.0,566.5 C1149.1,567.0 1161.3,566.5 1172.0,566.5 C1182.7,566.5 1193.3,566.5 1204.0,566.5 C1214.7,566.5 1229.7,569.9 1236.0,566.5 C1242.3,563.1 1239.7,552.0 1242.1,546.1 C1244.5,540.2 1247.1,538.2 1250.2,531.3 C1253.3,524.4 1257.8,512.8 1260.9,504.5 C1264.0,496.2 1266.8,486.0 1269.0,481.6 C1271.2,477.2 1271.8,477.3 1274.3,478.3 C1276.8,479.3 1282.1,486.1 1283.7,487.7" stroke="#000080" stroke-width="3.8"/>
<path d="M252.8,568.0 C253.5,567.8 254.7,567.9 257.2,566.5 C259.7,565.1 264.3,561.6 267.8,559.5 C271.3,557.4 274.7,556.3 278.2,553.8 C281.7,551.3 285.2,549.8 288.7,544.5 C292.2,539.2 295.7,531.0 299.1,522.1 C302.5,513.2 306.5,499.8 309.0,491.3 C311.5,482.8 312.5,477.7 314.2,470.9 C315.9,464.0 317.6,458.0 319.4,450.4 C321.2,442.8 323.1,433.5 324.9,425.0 C326.7,416.6 328.7,409.1 330.4,399.7 C332.1,390.3 333.7,379.1 335.4,368.8 C337.0,358.5 338.6,348.5 340.3,337.9 C342.0,327.3 343.9,316.1 345.6,305.1 C347.4,294.2 349.2,283.6 351.0,272.4 C352.8,261.2 354.6,249.4 356.4,237.9 C358.1,226.4 360.0,214.4 361.7,203.4 C363.4,192.4 365.1,182.5 366.8,172.1 C368.4,161.6 370.2,149.8 371.8,140.7 C373.4,131.6 374.9,125.0 376.5,117.2 C378.1,109.4 378.6,101.2 381.2,93.7 C383.8,86.2 388.8,74.4 392.4,72.3 C396.0,70.2 399.7,73.7 403.1,81.2 C406.5,88.7 410.5,106.3 413.0,117.2 C415.5,128.1 416.6,136.6 418.4,146.3 C420.1,156.0 422.0,164.5 423.7,175.4 C425.4,186.3 427.1,199.7 428.8,211.8 C430.4,223.9 432.1,235.6 433.8,248.2 C435.5,260.8 437.2,274.2 438.9,287.1 C440.5,300.1 442.2,313.3 443.9,326.1 C445.6,338.9 447.4,351.4 449.1,364.1 C450.8,376.8 452.6,390.2 454.3,402.1 C456.0,414.0 457.8,424.2 459.6,435.2 C461.3,446.3 463.1,458.6 464.8,468.4 C466.5,478.1 468.0,485.3 469.6,493.8 C471.1,502.2 471.8,510.3 474.3,519.1 C476.8,527.9 481.1,539.1 484.5,546.5 C487.9,553.9 491.2,559.9 494.6,563.5 C498.0,567.1 500.8,567.2 505.0,568.0 C509.2,568.8 511.4,568.2 520.0,568.3 C528.6,568.3 544.4,568.3 556.7,568.3 C568.9,568.3 581.1,568.3 593.3,568.3 C605.6,568.3 617.8,568.3 630.0,568.3 C642.2,568.3 654.4,568.3 666.7,568.3 C678.9,568.3 691.1,568.3 703.3,568.3 C715.6,568.3 727.8,568.3 740.0,568.3 C752.2,568.3 764.4,568.3 776.7,568.3 C788.9,568.3 801.1,568.3 813.3,568.3 C825.6,568.3 842.6,568.9 850.0,568.3 C857.4,567.7 854.4,566.6 857.5,564.7 C860.6,562.8 865.0,559.9 868.7,556.9 C872.4,553.9 876.1,550.5 879.8,547.0 C883.5,543.5 887.6,539.0 891.0,536.0 C894.4,533.0 897.0,530.8 900.0,529.0 C903.0,527.2 905.7,525.8 909.1,525.4 C912.5,525.0 916.6,525.6 920.3,526.5 C924.0,527.4 927.8,529.5 931.5,531.0 C935.2,532.5 939.0,533.9 942.7,535.4 C946.4,536.9 950.2,538.4 953.9,539.9 C957.6,541.4 961.4,543.1 965.1,544.4 C968.8,545.7 972.6,546.9 976.3,547.8 C980.0,548.7 983.8,549.5 987.5,550.0 C991.2,550.5 995.0,550.8 998.7,551.1 C1002.4,551.4 1005.7,551.4 1009.8,551.6 C1013.9,551.8 1019.2,551.8 1023.3,552.2 C1027.4,552.6 1030.8,553.0 1034.5,553.8 C1038.2,554.5 1042.4,556.1 1045.7,556.7 C1049.0,557.3 1051.2,557.8 1054.6,557.4 C1057.9,557.0 1062.2,555.5 1065.8,554.5 C1069.3,553.5 1072.5,552.1 1075.9,551.1 C1079.3,550.1 1082.7,548.9 1086.0,548.8 C1089.3,548.7 1092.7,549.7 1096.0,550.5 C1099.3,551.3 1102.5,552.8 1106.1,553.5 C1109.6,554.2 1113.8,554.4 1117.3,554.5 C1120.8,554.6 1124.0,554.5 1127.0,554.0 C1130.0,553.5 1131.8,552.6 1135.2,551.2 C1138.6,549.8 1143.6,547.1 1147.5,545.5 C1151.4,543.9 1154.8,541.3 1158.7,541.5 C1162.6,541.7 1167.5,544.9 1171.0,546.5 C1174.5,548.1 1176.9,548.8 1180.0,551.0 C1183.1,553.2 1186.4,556.9 1189.7,559.6 C1193.0,562.4 1194.3,566.0 1200.0,567.5 C1205.7,569.0 1218.8,570.5 1224.0,568.3 C1229.2,566.1 1229.3,560.0 1231.3,554.2 C1233.3,548.4 1234.5,540.3 1236.0,533.4 C1237.6,526.4 1239.1,521.2 1240.8,512.5 C1242.5,503.8 1244.4,491.5 1246.2,480.9 C1247.9,470.4 1249.8,458.8 1251.5,449.4 C1253.2,440.0 1254.8,432.9 1256.5,424.7 C1258.2,416.5 1258.8,405.5 1261.5,400.0 C1264.2,394.5 1270.1,388.6 1272.8,391.5 C1275.5,394.4 1276.2,408.8 1277.9,417.4 C1279.6,426.0 1282.2,439.0 1283.0,443.3" stroke="#ff0000" stroke-width="3.8"/>
<path d="M251.3,566.5a5.9,5.9 0 1,0 11.8,0a5.9,5.9 0 1,0 -11.8,0M261.7,559.6a5.9,5.9 0 1,0 11.8,0a5.9,5.9 0 1,0 -11.8,0M272.0,554.0a5.9,5.9 0 1,0 11.8,0a5.9,5.9 0 1,0 -11.8,0M282.4,545.1a5.9,5.9 0 1,0 11.8,0a5.9,5.9 0 1,0 -11.8,0M292.8,523.2a5.9,5.9 0 1,0 11.8,0a5.9,5.9 0 1,0 -11.8,0M303.1,491.2a5.9,5.9 0 1,0 11.8,0a5.9,5.9 0 1,0 -11.8,0M313.5,450.4a5.9,5.9 0 1,0 11.8,0a5.9,5.9 0 1,0 -11.8,0M324.5,399.7a5.9,5.9 0 1,0 11.8,0a5.9,5.9 0 1,0 -11.8,0M334.2,339.0a5.9,5.9 0 1,0 11.8,0a5.9,5.9 0 1,0 -11.8,0M345.1,272.4a5.9,5.9 0 1,0 11.8,0a5.9,5.9 0 1,0 -11.8,0M355.8,203.4a5.9,5.9 0 1,0 11.8,0a5.9,5.9 0 1,0 -11.8,0M365.9,140.7a5.9,5.9 0 1,0 11.8,0a5.9,5.9 0 1,0 -11.8,0M375.7,92.6a5.9,5.9 0 1,0 11.8,0a5.9,5.9 0 1,0 -11.8,0M386.0,72.6a5.9,5.9 0 1,0 11.8,0a5.9,5.9 0 1,0 -11.8,0M397.2,81.2a5.9,5.9 0 1,0 11.8,0a5.9,5.9 0 1,0 -11.8,0M406.8,115.8a5.9,5.9 0 1,0 11.8,0a5.9,5.9 0 1,0 -11.8,0M417.8,175.4a5.9,5.9 0 1,0 11.8,0a5.9,5.9 0 1,0 -11.8,0M427.9,248.2a5.9,5.9 0 1,0 11.8,0a5.9,5.9 0 1,0 -11.8,0M437.9,325.1a5.9,5.9 0 1,0 11.8,0a5.9,5.9 0 1,0 -11.8,0M448.2,401.0a5.9,5.9 0 1,0 11.8,0a5.9,5.9 0 1,0 -11.8,0M458.9,468.4a5.9,5.9 0 1,0 11.8,0a5.9,5.9 0 1,0 -11.8,0M468.4,519.1a5.9,5.9 0 1,0 11.8,0a5.9,5.9 0 1,0 -11.8,0M478.6,546.5a5.9,5.9 0 1,0 11.8,0a5.9,5.9 0 1,0 -11.8,0M489.7,564.5a5.9,5.9 0 1,0 11.8,0a5.9,5.9 0 1,0 -11.8,0M500.1,568.2a5.9,5.9 0 1,0 11.8,0a5.9,5.9 0 1,0 -11.8,0M510.4,568.3a5.9,5.9 0 1,0 11.8,0a5.9,5.9 0 1,0 -11.8,0M520.8,568.3a5.9,5.9 0 1,0 11.8,0a5.9,5.9 0 1,0 -11.8,0M531.2,568.3a5.9,5.9 0 1,0 11.8,0a5.9,5.9 0 1,0 -11.8,0M541.5,568.3a5.9,5.9 0 1,0 11.8,0a5.9,5.9 0 1,0 -11.8,0M551.9,568.3a5.9,5.9 0 1,0 11.8,0a5.9,5.9 0 1,0 -11.8,0M562.2,568.3a5.9,5.9 0 1,0 11.8,0a5.9,5.9 0 1,0 -11.8,0M572.6,568.3a5.9,5.9 0 1,0 11.8,0a5.9,5.9 0 1,0 -11.8,0M583.0,568.3a5.9,5.9 0 1,0 11.8,0a5.9,5.9 0 1,0 -11.8,0M593.3,568.3a5.9,5.9 0 1,0 11.8,0a5.9,5.9 0 1,0 -11.8,0M603.7,568.3a5.9,5.9 0 1,0 11.8,0a5.9,5.9 0 1,0 -11.8,0M614.1,568.3a5.9,5.9 0 1,0 11.8,0a5.9,5.9 0 1,0 -11.8,0M624.4,568.3a5.9,5.9 0 1,0 11.8,0a5.9,5.9 0 1,0 -11.8,0M634.8,568.3a5.9,5.9 0 1,0 11.8,0a5.9,5.9 0 1,0 -11.8,0M645.2,568.3a5.9,5.9 0 1,0 11.8,0a5.9,5.9 0 1,0 -11.8,0M655.5,568.3a5.9,5.9 0 1,0 11.8,0a5.9,5.9 0 1,0 -11.8,0M665.9,568.3a5.9,5.9 0 1,0 11.8,0a5.9,5.9 0 1,0 -11.8,0M676.3,568.3a5.9,5.9 0 1,0 11.8,0a5.9,5.9 0 1,0 -11.8,0M686.6,568.3a5.9,5.9 0 1,0 11.8,0a5.9,5.9 0 1,0 -11.8,0M697.0,568.3a5.9,5.9 0 1,0 11.8,0a5.9,5.9 0 1,0 -11.8,0M707.4,568.3a5.9,5.9 0 1,0 11.8,0a5.9,5.9 0 1,0 -11.8,0M717.7,568.3a5.9,5.9 0 1,0 11.8,0a5.9,5.9 0 1,0 -11.8,0M728.1,568.3a5.9,5.9 0 1,0 11.8,0a5.9,5.9 0 1,0 -11.8,0M738.5,568.3a5.9,5.9 0 1,0 11.8,0a5.9,5.9 0 1,0 -11.8,0M748.8,568.3a5.9,5.9 0 1,0 11.8,0a5.9,5.9 0 1,0 -11.8,0M759.2,568.3a5.9,5.9 0 1,0 11.8,0a5.9,5.9 0 1,0 -11.8,0M769.6,568.3a5.9,5.9 0 1,0 11.8,0a5.9,5.9 0 1,0 -11.8,0M779.9,568.3a5.9,5.9 0 1,0 11.8,0a5.9,5.9 0 1,0 -11.8,0M790.3,568.3a5.9,5.9 0 1,0 11.8,0a5.9,5.9 0 1,0 -11.8,0M800.6,568.3a5.9,5.9 0 1,0 11.8,0a5.9,5.9 0 1,0 -11.8,0M811.0,568.3a5.9,5.9 0 1,0 11.8,0a5.9,5.9 0 1,0 -11.8,0M821.4,568.4a5.9,5.9 0 1,0 11.8,0a5.9,5.9 0 1,0 -11.8,0M831.7,568.6a5.9,5.9 0 1,0 11.8,0a5.9,5.9 0 1,0 -11.8,0M842.1,568.4a5.9,5.9 0 1,0 11.8,0a5.9,5.9 0 1,0 -11.8,0M852.5,564.2a5.9,5.9 0 1,0 11.8,0a5.9,5.9 0 1,0 -11.8,0M862.8,556.9a5.9,5.9 0 1,0 11.8,0a5.9,5.9 0 1,0 -11.8,0M873.2,547.7a5.9,5.9 0 1,0 11.8,0a5.9,5.9 0 1,0 -11.8,0M883.6,537.4a5.9,5.9 0 1,0 11.8,0a5.9,5.9 0 1,0 -11.8,0M893.9,529.1a5.9,5.9 0 1,0 11.8,0a5.9,5.9 0 1,0 -11.8,0M904.3,525.3a5.9,5.9 0 1,0 11.8,0a5.9,5.9 0 1,0 -11.8,0M914.7,526.6a5.9,5.9 0 1,0 11.8,0a5.9,5.9 0 1,0 -11.8,0M925.0,530.8a5.9,5.9 0 1,0 11.8,0a5.9,5.9 0 1,0 -11.8,0M935.4,534.8a5.9,5.9 0 1,0 11.8,0a5.9,5.9 0 1,0 -11.8,0M945.8,539.0a5.9,5.9 0 1,0 11.8,0a5.9,5.9 0 1,0 -11.8,0M956.1,543.2a5.9,5.9 0 1,0 11.8,0a5.9,5.9 0 1,0 -11.8,0M966.5,546.7a5.9,5.9 0 1,0 11.8,0a5.9,5.9 0 1,0 -11.8,0M976.9,549.2a5.9,5.9 0 1,0 11.8,0a5.9,5.9 0 1,0 -11.8,0M987.2,550.7a5.9,5.9 0 1,0 11.8,0a5.9,5.9 0 1,0 -11.8,0M997.6,551.4a5.9,5.9 0 1,0 11.8,0a5.9,5.9 0 1,0 -11.8,0M1007.9,551.7a5.9,5.9 0 1,0 11.8,0a5.9,5.9 0 1,0 -11.8,0M1018.3,552.3a5.9,5.9 0 1,0 11.8,0a5.9,5.9 0 1,0 -11.8,0M1028.7,553.8a5.9,5.9 0 1,0 11.8,0a5.9,5.9 0 1,0 -11.8,0M1039.0,556.5a5.9,5.9 0 1,0 11.8,0a5.9,5.9 0 1,0 -11.8,0M1049.4,557.3a5.9,5.9 0 1,0 11.8,0a5.9,5.9 0 1,0 -11.8,0M1059.8,554.5a5.9,5.9 0 1,0 11.8,0a5.9,5.9 0 1,0 -11.8,0M1070.1,551.1a5.9,5.9 0 1,0 11.8,0a5.9,5.9 0 1,0 -11.8,0M1080.5,548.8a5.9,5.9 0 1,0 11.8,0a5.9,5.9 0 1,0 -11.8,0M1090.9,550.7a5.9,5.9 0 1,0 11.8,0a5.9,5.9 0 1,0 -11.8,0M1101.2,553.7a5.9,5.9 0 1,0 11.8,0a5.9,5.9 0 1,0 -11.8,0M1111.6,554.5a5.9,5.9 0 1,0 11.8,0a5.9,5.9 0 1,0 -11.8,0M1122.0,553.8a5.9,5.9 0 1,0 11.8,0a5.9,5.9 0 1,0 -11.8,0M1132.3,549.8a5.9,5.9 0 1,0 11.8,0a5.9,5.9 0 1,0 -11.8,0M1142.7,545.0a5.9,5.9 0 1,0 11.8,0a5.9,5.9 0 1,0 -11.8,0M1153.1,541.5a5.9,5.9 0 1,0 11.8,0a5.9,5.9 0 1,0 -11.8,0M1163.4,545.7a5.9,5.9 0 1,0 11.8,0a5.9,5.9 0 1,0 -11.8,0M1173.8,550.8a5.9,5.9 0 1,0 11.8,0a5.9,5.9 0 1,0 -11.8,0M1184.1,559.9a5.9,5.9 0 1,0 11.8,0a5.9,5.9 0 1,0 -11.8,0M1194.5,567.6a5.9,5.9 0 1,0 11.8,0a5.9,5.9 0 1,0 -11.8,0M1204.9,569.2a5.9,5.9 0 1,0 11.8,0a5.9,5.9 0 1,0 -11.8,0M1215.2,569.1a5.9,5.9 0 1,0 11.8,0a5.9,5.9 0 1,0 -11.8,0M1225.6,553.6a5.9,5.9 0 1,0 11.8,0a5.9,5.9 0 1,0 -11.8,0M1234.9,512.5a5.9,5.9 0 1,0 11.8,0a5.9,5.9 0 1,0 -11.8,0M1245.6,449.4a5.9,5.9 0 1,0 11.8,0a5.9,5.9 0 1,0 -11.8,0M1255.6,400.0a5.9,5.9 0 1,0 11.8,0a5.9,5.9 0 1,0 -11.8,0M1267.1,391.7a5.9,5.9 0 1,0 11.8,0a5.9,5.9 0 1,0 -11.8,0M1277.4,443.3a5.9,5.9 0 1,0 11.8,0a5.9,5.9 0 1,0 -11.8,0" stroke="#ff0000" stroke-width="1.5" fill="#fff" stroke-dasharray="3.4,1.3"/>
<path d="M256.8,567.7 C262.4,567.7 279.3,567.7 290.6,567.6 C301.8,567.6 313.1,567.6 324.3,567.6 C335.6,567.5 346.8,567.5 358.1,567.5 C369.4,567.5 380.6,567.5 391.9,567.4 C403.1,567.4 414.4,567.4 425.6,567.4 C436.9,567.3 451.5,568.8 459.4,567.3 C467.3,565.8 468.6,561.2 472.8,558.2 C477.0,555.2 481.1,552.8 484.8,549.3 C488.5,545.8 491.7,541.5 495.2,537.3 C498.7,533.1 502.2,528.5 505.7,523.9 C509.2,519.3 512.6,514.4 516.1,509.7 C519.6,505.0 523.1,500.2 526.6,495.5 C530.1,490.8 533.5,485.5 537.0,481.3 C540.5,477.1 544.0,473.5 547.5,470.1 C551.0,466.8 554.4,464.0 557.9,461.2 C561.4,458.4 564.9,455.2 568.4,453.2 C571.9,451.2 575.3,450.4 578.8,449.3 C582.3,448.2 585.8,447.2 589.3,446.5 C592.8,445.8 596.2,445.1 599.7,444.8 C603.2,444.5 606.6,444.5 610.1,444.6 C613.6,444.7 617.1,444.8 620.6,445.3 C624.1,445.8 627.0,446.5 631.0,447.8 C635.0,449.1 638.8,450.8 644.8,453.0 C650.8,455.2 659.7,458.4 667.2,461.0 C674.7,463.6 682.2,466.1 689.6,468.3 C697.0,470.6 704.5,473.0 711.9,474.5 C719.3,476.0 726.8,477.3 734.3,477.4 C741.8,477.5 750.0,476.4 756.7,475.1 C763.4,473.8 768.6,472.0 774.6,469.4 C780.6,466.8 786.5,462.0 792.5,459.2 C798.5,456.4 805.2,453.7 810.4,452.4 C815.6,451.1 819.4,451.0 823.9,451.3 C828.4,451.6 832.8,452.2 837.3,454.1 C841.8,456.0 846.2,459.8 850.7,462.6 C855.2,465.4 859.3,468.2 864.2,471.1 C869.1,474.0 875.1,477.5 880.0,480.0 C884.9,482.5 887.8,484.2 893.4,486.2 C899.0,488.2 906.5,490.3 913.6,491.8 C920.7,493.3 928.5,493.8 936.0,495.1 C943.5,496.4 950.9,497.9 958.4,499.6 C965.9,501.3 973.2,503.3 980.7,505.2 C988.2,507.1 995.6,509.5 1003.1,510.8 C1010.6,512.1 1018.0,513.3 1025.5,513.1 C1033.0,512.9 1040.4,510.0 1047.9,509.7 C1055.4,509.4 1064.7,510.0 1070.3,511.5 C1075.9,513.0 1077.8,515.7 1081.5,518.7 C1085.2,521.8 1089.0,526.1 1092.7,529.8 C1096.4,533.5 1100.6,537.5 1103.9,541.0 C1107.2,544.5 1110.2,547.5 1112.8,550.5 C1115.4,553.5 1117.2,556.5 1119.5,559.0 C1121.8,561.5 1123.7,564.0 1126.3,565.5 C1128.9,567.0 1128.2,567.3 1135.0,567.7 C1141.8,568.1 1156.3,567.7 1167.0,567.7 C1177.7,567.7 1188.3,567.7 1199.0,567.7 C1209.7,567.7 1223.8,570.1 1231.0,567.7 C1238.2,565.3 1239.5,561.7 1242.1,553.5 C1244.7,545.3 1245.2,530.0 1246.8,518.2 C1248.4,506.5 1250.3,495.0 1251.5,483.0 C1252.7,471.0 1253.3,458.7 1254.2,446.5 C1255.0,434.3 1255.9,422.2 1256.8,410.0 C1257.7,397.8 1258.6,385.7 1259.4,373.5 C1260.3,361.3 1261.2,349.5 1262.1,337.0 C1263.0,324.5 1263.9,311.2 1264.8,298.3 C1265.7,285.4 1266.6,272.5 1267.4,259.6 C1268.3,246.6 1269.2,233.7 1270.1,220.8 C1271.0,207.9 1270.7,186.9 1272.8,182.1 C1274.9,177.3 1281.3,190.5 1283.0,192.2" stroke="#0000ff" stroke-width="2.4"/>
<g fill="#0000ff"><rect x="250.4" y="560.9" width="13.6" height="13.6" rx="5"/><rect x="260.8" y="560.9" width="13.6" height="13.6" rx="5"/><rect x="271.1" y="560.9" width="13.6" height="13.6" rx="5"/><rect x="281.5" y="560.8" width="13.6" height="13.6" rx="5"/><rect x="291.9" y="560.8" width="13.6" height="13.6" rx="5"/><rect x="302.2" y="560.8" width="13.6" height="13.6" rx="5"/><rect x="312.6" y="560.8" width="13.6" height="13.6" rx="5"/><rect x="323.0" y="560.8" width="13.6" height="13.6" rx="5"/><rect x="333.3" y="560.7" width="13.6" height="13.6" rx="5"/><rect x="343.7" y="560.7" width="13.6" height="13.6" rx="5"/><rect x="354.1" y="560.7" width="13.6" height="13.6" rx="5"/><rect x="364.4" y="560.7" width="13.6" height="13.6" rx="5"/><rect x="374.8" y="560.7" width="13.6" height="13.6" rx="5"/><rect x="385.1" y="560.6" width="13.6" height="13.6" rx="5"/><rect x="395.5" y="560.6" width="13.6" height="13.6" rx="5"/><rect x="405.9" y="560.6" width="13.6" height="13.6" rx="5"/><rect x="416.2" y="560.6" width="13.6" height="13.6" rx="5"/><rect x="426.6" y="560.7" width="13.6" height="13.6" rx="5"/><rect x="437.0" y="561.1" width="13.6" height="13.6" rx="5"/><rect x="447.3" y="561.1" width="13.6" height="13.6" rx="5"/><rect x="457.7" y="558.7" width="13.6" height="13.6" rx="5"/><rect x="468.1" y="550.0" width="13.6" height="13.6" rx="5"/><rect x="478.4" y="542.1" width="13.6" height="13.6" rx="5"/><rect x="488.8" y="530.0" width="13.6" height="13.6" rx="5"/><rect x="499.2" y="516.8" width="13.6" height="13.6" rx="5"/><rect x="509.5" y="502.6" width="13.6" height="13.6" rx="5"/><rect x="519.9" y="488.6" width="13.6" height="13.6" rx="5"/><rect x="530.3" y="474.4" width="13.6" height="13.6" rx="5"/><rect x="540.6" y="463.4" width="13.6" height="13.6" rx="5"/><rect x="551.0" y="454.5" width="13.6" height="13.6" rx="5"/><rect x="561.4" y="446.5" width="13.6" height="13.6" rx="5"/><rect x="571.7" y="442.6" width="13.6" height="13.6" rx="5"/><rect x="582.1" y="439.8" width="13.6" height="13.6" rx="5"/><rect x="592.4" y="438.0" width="13.6" height="13.6" rx="5"/><rect x="602.8" y="437.8" width="13.6" height="13.6" rx="5"/><rect x="613.2" y="438.4" width="13.6" height="13.6" rx="5"/><rect x="623.5" y="440.8" width="13.6" height="13.6" rx="5"/><rect x="633.9" y="444.7" width="13.6" height="13.6" rx="5"/><rect x="644.3" y="448.5" width="13.6" height="13.6" rx="5"/><rect x="654.6" y="452.2" width="13.6" height="13.6" rx="5"/><rect x="665.0" y="455.8" width="13.6" height="13.6" rx="5"/><rect x="675.4" y="459.2" width="13.6" height="13.6" rx="5"/><rect x="685.7" y="462.4" width="13.6" height="13.6" rx="5"/><rect x="696.1" y="465.5" width="13.6" height="13.6" rx="5"/><rect x="706.5" y="468.0" width="13.6" height="13.6" rx="5"/><rect x="716.8" y="469.8" width="13.6" height="13.6" rx="5"/><rect x="727.2" y="470.6" width="13.6" height="13.6" rx="5"/><rect x="737.6" y="470.1" width="13.6" height="13.6" rx="5"/><rect x="747.9" y="468.7" width="13.6" height="13.6" rx="5"/><rect x="758.3" y="466.2" width="13.6" height="13.6" rx="5"/><rect x="768.7" y="462.2" width="13.6" height="13.6" rx="5"/><rect x="779.0" y="456.2" width="13.6" height="13.6" rx="5"/><rect x="789.4" y="450.7" width="13.6" height="13.6" rx="5"/><rect x="799.7" y="446.7" width="13.6" height="13.6" rx="5"/><rect x="810.1" y="444.5" width="13.6" height="13.6" rx="5"/><rect x="820.5" y="444.8" width="13.6" height="13.6" rx="5"/><rect x="830.8" y="447.5" width="13.6" height="13.6" rx="5"/><rect x="841.2" y="454.0" width="13.6" height="13.6" rx="5"/><rect x="851.6" y="460.7" width="13.6" height="13.6" rx="5"/><rect x="861.9" y="467.0" width="13.6" height="13.6" rx="5"/><rect x="872.3" y="472.7" width="13.6" height="13.6" rx="5"/><rect x="882.7" y="477.9" width="13.6" height="13.6" rx="5"/><rect x="893.0" y="481.5" width="13.6" height="13.6" rx="5"/><rect x="903.4" y="484.2" width="13.6" height="13.6" rx="5"/><rect x="913.8" y="486.2" width="13.6" height="13.6" rx="5"/><rect x="924.1" y="487.5" width="13.6" height="13.6" rx="5"/><rect x="934.5" y="489.3" width="13.6" height="13.6" rx="5"/><rect x="944.9" y="491.3" width="13.6" height="13.6" rx="5"/><rect x="955.2" y="493.6" width="13.6" height="13.6" rx="5"/><rect x="965.6" y="496.3" width="13.6" height="13.6" rx="5"/><rect x="976.0" y="498.9" width="13.6" height="13.6" rx="5"/><rect x="986.3" y="501.7" width="13.6" height="13.6" rx="5"/><rect x="996.7" y="504.1" width="13.6" height="13.6" rx="5"/><rect x="1007.0" y="505.7" width="13.6" height="13.6" rx="5"/><rect x="1017.4" y="506.3" width="13.6" height="13.6" rx="5"/><rect x="1027.8" y="505.1" width="13.6" height="13.6" rx="5"/><rect x="1038.1" y="503.1" width="13.6" height="13.6" rx="5"/><rect x="1048.5" y="502.9" width="13.6" height="13.6" rx="5"/><rect x="1058.9" y="503.8" width="13.6" height="13.6" rx="5"/><rect x="1069.2" y="507.3" width="13.6" height="13.6" rx="5"/><rect x="1079.6" y="516.5" width="13.6" height="13.6" rx="5"/><rect x="1090.0" y="527.0" width="13.6" height="13.6" rx="5"/><rect x="1100.3" y="537.5" width="13.6" height="13.6" rx="5"/><rect x="1112.7" y="552.2" width="13.6" height="13.6" rx="5"/><rect x="1121.1" y="559.6" width="13.6" height="13.6" rx="5"/><rect x="1131.4" y="561.0" width="13.6" height="13.6" rx="5"/><rect x="1141.8" y="561.0" width="13.6" height="13.6" rx="5"/><rect x="1152.2" y="560.9" width="13.6" height="13.6" rx="5"/><rect x="1162.5" y="560.9" width="13.6" height="13.6" rx="5"/><rect x="1172.9" y="560.9" width="13.6" height="13.6" rx="5"/><rect x="1183.2" y="560.9" width="13.6" height="13.6" rx="5"/><rect x="1193.6" y="560.9" width="13.6" height="13.6" rx="5"/><rect x="1204.0" y="561.4" width="13.6" height="13.6" rx="5"/><rect x="1214.3" y="561.9" width="13.6" height="13.6" rx="5"/><rect x="1224.7" y="560.7" width="13.6" height="13.6" rx="5"/><rect x="1235.1" y="547.4" width="13.6" height="13.6" rx="5"/><rect x="1244.7" y="476.2" width="13.6" height="13.6" rx="5"/><rect x="1255.3" y="330.2" width="13.6" height="13.6" rx="5"/><rect x="1266.2" y="175.0" width="13.6" height="13.6" rx="5"/><rect x="1276.5" y="185.4" width="13.6" height="13.6" rx="5"/></g>
<path d="M254.6,564.3h2.4v2.4h-2.4zM265.0,564.3h2.4v2.4h-2.4zM275.3,564.3h2.4v2.4h-2.4zM285.7,564.2h2.4v2.4h-2.4zM296.1,564.2h2.4v2.4h-2.4zM306.4,564.2h2.4v2.4h-2.4zM316.8,564.2h2.4v2.4h-2.4zM327.2,564.2h2.4v2.4h-2.4zM337.5,564.1h2.4v2.4h-2.4zM347.9,564.1h2.4v2.4h-2.4zM358.2,564.1h2.4v2.4h-2.4zM368.6,564.1h2.4v2.4h-2.4zM379.0,564.1h2.4v2.4h-2.4zM389.3,564.0h2.4v2.4h-2.4zM399.7,564.0h2.4v2.4h-2.4zM410.1,564.0h2.4v2.4h-2.4zM420.4,564.0h2.4v2.4h-2.4zM430.8,564.1h2.4v2.4h-2.4zM441.2,564.5h2.4v2.4h-2.4zM451.5,564.5h2.4v2.4h-2.4zM461.9,562.1h2.4v2.4h-2.4zM472.3,553.4h2.4v2.4h-2.4zM482.6,545.5h2.4v2.4h-2.4zM493.0,533.4h2.4v2.4h-2.4zM503.4,520.2h2.4v2.4h-2.4zM513.7,506.0h2.4v2.4h-2.4zM524.1,492.0h2.4v2.4h-2.4zM534.5,477.8h2.4v2.4h-2.4zM544.8,466.8h2.4v2.4h-2.4zM555.2,457.9h2.4v2.4h-2.4zM565.5,449.9h2.4v2.4h-2.4zM575.9,446.0h2.4v2.4h-2.4zM586.3,443.2h2.4v2.4h-2.4zM596.6,441.4h2.4v2.4h-2.4zM607.0,441.2h2.4v2.4h-2.4zM617.4,441.8h2.4v2.4h-2.4zM627.7,444.2h2.4v2.4h-2.4zM638.1,448.1h2.4v2.4h-2.4zM648.5,451.9h2.4v2.4h-2.4zM658.8,455.6h2.4v2.4h-2.4zM669.2,459.2h2.4v2.4h-2.4zM679.6,462.6h2.4v2.4h-2.4zM689.9,465.8h2.4v2.4h-2.4zM700.3,468.9h2.4v2.4h-2.4zM710.7,471.4h2.4v2.4h-2.4zM721.0,473.2h2.4v2.4h-2.4zM731.4,474.0h2.4v2.4h-2.4zM741.8,473.5h2.4v2.4h-2.4zM752.1,472.1h2.4v2.4h-2.4zM762.5,469.6h2.4v2.4h-2.4zM772.9,465.6h2.4v2.4h-2.4zM783.2,459.6h2.4v2.4h-2.4zM793.6,454.1h2.4v2.4h-2.4zM803.9,450.1h2.4v2.4h-2.4zM814.3,447.9h2.4v2.4h-2.4zM824.7,448.2h2.4v2.4h-2.4zM835.0,450.9h2.4v2.4h-2.4zM845.4,457.4h2.4v2.4h-2.4zM855.8,464.1h2.4v2.4h-2.4zM866.1,470.4h2.4v2.4h-2.4zM876.5,476.1h2.4v2.4h-2.4zM886.9,481.3h2.4v2.4h-2.4zM897.2,484.9h2.4v2.4h-2.4zM907.6,487.6h2.4v2.4h-2.4zM918.0,489.6h2.4v2.4h-2.4zM928.3,490.9h2.4v2.4h-2.4zM938.7,492.7h2.4v2.4h-2.4zM949.1,494.7h2.4v2.4h-2.4zM959.4,497.0h2.4v2.4h-2.4zM969.8,499.7h2.4v2.4h-2.4zM980.1,502.3h2.4v2.4h-2.4zM990.5,505.1h2.4v2.4h-2.4zM1000.9,507.5h2.4v2.4h-2.4zM1011.2,509.1h2.4v2.4h-2.4zM1021.6,509.7h2.4v2.4h-2.4zM1032.0,508.5h2.4v2.4h-2.4zM1042.3,506.5h2.4v2.4h-2.4zM1052.7,506.3h2.4v2.4h-2.4zM1063.1,507.2h2.4v2.4h-2.4zM1073.4,510.7h2.4v2.4h-2.4zM1083.8,519.9h2.4v2.4h-2.4zM1094.2,530.4h2.4v2.4h-2.4zM1104.5,540.9h2.4v2.4h-2.4zM1116.9,555.6h2.4v2.4h-2.4zM1125.3,563.0h2.4v2.4h-2.4zM1135.6,564.4h2.4v2.4h-2.4zM1146.0,564.4h2.4v2.4h-2.4zM1156.4,564.3h2.4v2.4h-2.4zM1166.7,564.3h2.4v2.4h-2.4zM1177.1,564.3h2.4v2.4h-2.4zM1187.5,564.3h2.4v2.4h-2.4zM1197.8,564.3h2.4v2.4h-2.4zM1208.2,564.8h2.4v2.4h-2.4zM1218.5,565.3h2.4v2.4h-2.4zM1228.9,564.1h2.4v2.4h-2.4zM1239.3,550.8h2.4v2.4h-2.4zM1248.9,479.6h2.4v2.4h-2.4zM1259.5,333.6h2.4v2.4h-2.4zM1270.4,178.4h2.4v2.4h-2.4zM1280.7,188.8h2.4v2.4h-2.4z" fill="#a0a0ff" stroke="none"/>
</g>
<g stroke="#000" stroke-width="3" fill="none">
<path d="M227.8,1126 L227.8,2064"/>
<path d="M208.5,2045.5 L1301,2045.5"/>
<path d="M208.5,2045.5 L227.8,2045.5"/>
<path d="M208.5,1858.1 L227.8,1858.1"/>
<path d="M208.5,1670.7 L227.8,1670.7"/>
<path d="M208.5,1483.3 L227.8,1483.3"/>
<path d="M208.5,1295.9 L227.8,1295.9"/>
<path d="M217.5,1951.8 L227.8,1951.8"/>
<path d="M217.5,1764.4 L227.8,1764.4"/>
<path d="M217.5,1577.0 L227.8,1577.0"/>
<path d="M217.5,1389.6 L227.8,1389.6"/>
<path d="M217.5,1202.2 L227.8,1202.2"/>
<path d="M227.8,2045.5 L227.8,2064"/>
<path d="M446.6,2045.5 L446.6,2064"/>
<path d="M865.0,2045.5 L865.0,2064"/>
<path d="M1283.4,2045.5 L1283.4,2064"/>
<path d="M280.1,2045.5 L280.1,2056.5"/>
<path d="M320.6,2045.5 L320.6,2056.5"/>
<path d="M353.8,2045.5 L353.8,2056.5"/>
<path d="M381.8,2045.5 L381.8,2056.5"/>
<path d="M406.0,2045.5 L406.0,2056.5"/>
<path d="M427.4,2045.5 L427.4,2056.5"/>
<path d="M572.5,2045.5 L572.5,2056.5"/>
<path d="M646.2,2045.5 L646.2,2056.5"/>
<path d="M698.5,2045.5 L698.5,2056.5"/>
<path d="M739.0,2045.5 L739.0,2056.5"/>
<path d="M772.2,2045.5 L772.2,2056.5"/>
<path d="M800.2,2045.5 L800.2,2056.5"/>
<path d="M824.4,2045.5 L824.4,2056.5"/>
<path d="M845.8,2045.5 L845.8,2056.5"/>
<path d="M990.9,2045.5 L990.9,2056.5"/>
<path d="M1064.6,2045.5 L1064.6,2056.5"/>
<path d="M1116.9,2045.5 L1116.9,2056.5"/>
<path d="M1157.4,2045.5 L1157.4,2056.5"/>
<path d="M1190.6,2045.5 L1190.6,2056.5"/>
<path d="M1218.6,2045.5 L1218.6,2056.5"/>
<path d="M1242.8,2045.5 L1242.8,2056.5"/>
<path d="M1264.2,2045.5 L1264.2,2056.5"/>
</g>
<path d="M655.8,1482.5 L767.8,1482.5" stroke="#000080" stroke-width="4.6"/>
<path d="M655.8,1540.7 L767.8,1540.7" stroke="#ff0000" stroke-width="3.2"/>
<circle cx="711" cy="1540.7" r="8.3" fill="#fff" stroke="#ff0000" stroke-width="1.6"/>
<path d="M655.8,1599 L767.8,1599" stroke="#0000ff" stroke-width="3"/>
<circle cx="711" cy="1599" r="8.5" fill="#0000ff"/>
<rect x="706.5" y="1593" width="3" height="3" fill="#a0a0ff"/>
<g clip-path="url(#cpB)" fill="none" stroke-linejoin="round" stroke-linecap="round">
<path d="M254.5,2044.0 C254.8,2041.4 255.8,2032.9 256.6,2028.4 C257.5,2023.9 258.2,2021.6 259.6,2017.2 C261.0,2012.8 263.1,2008.4 264.9,2002.2 C266.6,1996.0 268.1,1988.6 270.1,1979.9 C272.1,1971.2 275.1,1959.2 276.8,1950.0 C278.5,1940.8 279.0,1933.3 280.1,1925.0 C281.3,1916.7 282.4,1908.5 283.5,1900.0 C284.6,1891.5 285.9,1882.8 287.1,1874.2 C288.2,1865.5 289.5,1857.3 290.6,1848.3 C291.7,1839.3 292.7,1829.6 293.8,1820.3 C294.9,1811.0 295.8,1801.6 297.0,1792.3 C298.2,1783.0 299.8,1773.6 301.2,1764.2 C302.6,1754.9 303.9,1745.5 305.4,1736.2 C306.9,1726.9 308.5,1717.5 310.1,1708.2 C311.7,1698.9 313.1,1689.6 314.8,1680.2 C316.5,1670.8 318.4,1661.5 320.2,1652.1 C322.1,1642.7 323.9,1632.2 325.7,1624.0 C327.5,1615.8 329.2,1610.0 330.9,1603.0 C332.7,1596.0 334.2,1588.2 336.2,1582.0 C338.2,1575.8 340.5,1570.1 343.0,1566.0 C345.5,1561.9 348.4,1558.0 351.0,1557.5 C353.6,1557.0 355.7,1558.9 358.5,1563.0 C361.3,1567.1 365.4,1575.3 367.7,1582.0 C370.0,1588.7 370.7,1596.0 372.2,1603.0 C373.8,1610.0 375.1,1615.8 376.8,1624.0 C378.5,1632.2 380.5,1642.7 382.4,1652.1 C384.3,1661.5 386.4,1670.8 388.0,1680.2 C389.6,1689.6 390.8,1698.9 392.2,1708.2 C393.7,1717.5 395.0,1726.9 396.5,1736.2 C398.0,1745.5 399.5,1754.9 401.1,1764.2 C402.6,1773.6 404.1,1783.6 405.6,1792.3 C407.1,1801.0 408.4,1808.2 409.9,1816.2 C411.3,1824.1 412.7,1831.9 414.1,1840.0 C415.5,1848.1 416.9,1856.7 418.3,1865.0 C419.7,1873.3 421.0,1881.6 422.5,1889.9 C424.0,1898.2 425.7,1906.6 427.5,1914.9 C429.3,1923.2 431.4,1932.2 433.3,1939.8 C435.2,1947.4 437.2,1954.3 439.1,1960.6 C441.0,1966.8 443.1,1972.4 444.9,1977.3 C446.7,1982.2 447.9,1985.5 449.9,1989.7 C451.8,1993.9 454.1,1998.0 456.6,2002.2 C459.1,2006.4 461.8,2011.4 464.9,2014.7 C467.9,2018.0 471.1,2020.7 474.9,2022.2 C478.6,2023.7 482.9,2025.0 487.4,2023.9 C491.9,2022.8 496.7,2018.6 502.1,2015.8 C507.5,2013.0 514.0,2009.5 520.0,2007.0 C526.0,2004.5 532.3,2001.2 538.4,2000.5 C544.5,1999.8 550.4,2001.5 556.4,2002.7 C562.4,2004.0 568.3,2006.5 574.3,2008.0 C580.3,2009.5 586.2,2010.6 592.2,2011.6 C598.2,2012.6 604.9,2013.5 610.1,2013.9 C615.3,2014.3 618.4,2014.5 623.6,2013.9 C628.8,2013.3 634.8,2012.0 641.5,2010.5 C648.2,2009.0 656.4,2006.5 663.9,2005.0 C671.4,2003.5 678.8,2002.4 686.3,2001.6 C693.8,2000.8 702.2,2001.0 708.7,2000.4 C715.2,1999.8 719.4,1999.6 725.0,1998.0 C730.6,1996.4 735.8,1994.1 742.4,1990.6 C749.0,1987.1 757.3,1981.5 764.8,1977.2 C772.3,1972.9 779.7,1967.9 787.2,1964.9 C794.7,1961.9 802.9,1960.4 809.6,1959.3 C816.3,1958.2 822.3,1959.2 827.5,1958.1 C832.7,1957.0 836.4,1955.7 840.9,1952.5 C845.4,1949.3 849.8,1944.3 854.3,1939.1 C858.8,1933.9 863.3,1927.9 867.8,1921.2 C872.3,1914.5 876.7,1905.3 881.2,1898.8 C885.7,1892.3 890.5,1885.7 894.6,1882.0 C898.7,1878.3 902.1,1876.4 905.8,1876.4 C909.5,1876.4 913.3,1878.6 917.0,1882.0 C920.7,1885.4 924.1,1891.6 928.2,1896.6 C932.3,1901.6 936.8,1908.1 941.6,1912.2 C946.5,1916.3 952.1,1921.2 957.3,1921.2 C962.5,1921.2 967.8,1915.9 973.0,1912.2 C978.2,1908.5 983.9,1901.8 988.7,1898.8 C993.6,1895.8 996.5,1893.9 1002.1,1894.3 C1007.7,1894.7 1015.3,1898.8 1022.4,1901.0 C1029.5,1903.2 1037.3,1905.9 1044.8,1907.8 C1052.3,1909.7 1059.7,1909.6 1067.2,1912.2 C1074.7,1914.8 1082.1,1918.6 1089.6,1923.4 C1097.0,1928.2 1104.5,1933.8 1111.9,1941.3 C1119.4,1948.8 1126.8,1959.2 1134.3,1968.2 C1141.8,1977.2 1149.2,1986.5 1156.7,1995.1 C1164.2,2003.7 1172.4,2013.7 1179.1,2019.7 C1185.8,2025.7 1191.4,2028.7 1197.0,2030.9 C1202.6,2033.1 1207.5,2033.8 1212.7,2033.1 C1217.9,2032.3 1222.8,2029.8 1228.4,2026.4 C1234.0,2023.1 1240.7,2016.0 1246.3,2013.0 C1251.9,2010.0 1257.4,2008.1 1261.9,2008.5 C1266.4,2008.9 1269.4,2012.2 1273.1,2015.2 C1276.8,2018.2 1282.4,2024.5 1284.3,2026.4" stroke="#000080" stroke-width="5.6"/>
<path d="M256.4,2037.0 C258.3,2034.4 264.4,2028.7 268.1,2021.4 C271.8,2014.1 275.3,2003.7 278.8,1993.4 C282.3,1983.1 286.4,1968.7 289.0,1959.8 C291.6,1950.9 292.4,1946.7 294.1,1940.2 C295.9,1933.7 297.6,1927.3 299.3,1920.6 C301.0,1913.9 302.7,1907.0 304.5,1900.2 C306.2,1893.3 307.9,1886.4 309.6,1879.7 C311.3,1873.0 313.1,1866.6 314.9,1860.1 C316.6,1853.6 317.5,1849.5 320.1,1840.5 C322.7,1831.5 326.9,1816.5 330.4,1806.0 C333.9,1795.5 337.7,1785.3 340.9,1777.8 C344.1,1770.3 346.4,1764.3 349.8,1761.0 C353.2,1757.7 357.8,1756.6 361.5,1757.7 C365.2,1758.8 368.6,1761.6 372.2,1767.8 C375.8,1774.0 379.6,1784.3 383.0,1795.1 C386.4,1805.9 390.3,1822.6 392.8,1832.7 C395.3,1842.8 396.4,1848.1 398.1,1855.8 C399.9,1863.6 401.7,1871.3 403.5,1879.0 C405.3,1886.7 407.0,1894.4 408.8,1902.2 C410.5,1909.9 412.3,1917.9 414.0,1925.3 C415.7,1932.7 417.4,1939.3 419.1,1946.3 C420.9,1953.3 421.9,1958.7 424.3,1967.3 C426.7,1975.9 430.2,1988.2 433.5,1998.0 C436.8,2007.8 440.5,2019.4 443.9,2026.0 C447.3,2032.6 450.7,2035.1 454.1,2037.5 C457.5,2039.9 460.1,2039.9 464.4,2040.5 C468.7,2041.1 471.4,2040.9 480.0,2041.0 C488.6,2041.1 504.0,2041.0 516.0,2041.0 C528.0,2041.0 540.0,2041.0 552.0,2041.0 C564.0,2041.0 576.0,2041.0 588.0,2041.0 C600.0,2041.0 612.0,2041.0 624.0,2041.0 C636.0,2041.0 651.1,2041.8 660.0,2041.0 C668.9,2040.2 672.2,2038.6 677.3,2036.3 C682.4,2034.0 686.2,2030.3 690.7,2027.3 C695.2,2024.3 699.7,2021.3 704.2,2018.4 C708.7,2015.5 713.6,2012.4 717.6,2010.0 C721.6,2007.6 724.6,2005.8 728.0,2004.0 C731.4,2002.2 734.0,2001.4 737.9,1999.5 C741.8,1997.6 746.8,1994.6 751.3,1992.8 C755.8,1991.0 760.3,1989.7 764.8,1988.4 C769.3,1987.1 773.7,1986.1 778.2,1985.0 C782.7,1983.9 787.1,1982.7 791.6,1981.6 C796.1,1980.5 800.6,1979.4 805.1,1978.3 C809.6,1977.2 814.0,1976.6 818.5,1974.9 C823.0,1973.2 827.4,1970.8 831.9,1968.2 C836.4,1965.6 840.9,1962.1 845.4,1959.3 C849.9,1956.5 854.3,1954.2 858.8,1951.4 C863.3,1948.6 867.7,1945.3 872.2,1942.5 C876.7,1939.7 881.2,1937.2 885.7,1934.6 C890.2,1932.0 894.6,1929.8 899.1,1926.8 C903.6,1923.8 908.8,1920.1 912.5,1916.7 C916.2,1913.3 918.1,1911.1 921.5,1906.6 C924.9,1902.1 929.4,1895.6 932.7,1889.8 C936.1,1884.0 938.6,1877.5 941.6,1871.9 C944.6,1866.3 946.9,1860.8 950.6,1856.0 C954.3,1851.2 959.5,1846.5 964.0,1842.8 C968.5,1839.1 973.0,1836.1 977.5,1833.9 C982.0,1831.7 986.8,1831.3 990.9,1829.4 C995.0,1827.5 998.7,1824.4 1002.1,1822.7 C1005.5,1821.0 1007.8,1820.6 1011.2,1819.3 C1014.6,1818.0 1018.7,1814.1 1022.4,1815.0 C1026.1,1815.9 1029.5,1821.7 1033.6,1824.9 C1037.7,1828.1 1042.5,1833.6 1047.0,1834.0 C1051.5,1834.4 1055.9,1830.6 1060.4,1827.2 C1064.9,1823.8 1069.8,1817.6 1073.9,1813.7 C1078.0,1809.8 1081.4,1805.9 1085.1,1803.7 C1088.8,1801.5 1092.9,1800.2 1096.3,1800.3 C1099.7,1800.3 1101.8,1802.2 1105.2,1804.0 C1108.6,1805.8 1112.7,1809.1 1116.4,1811.0 C1120.1,1812.9 1123.9,1814.5 1127.6,1815.5 C1131.3,1816.5 1135.2,1816.5 1138.8,1817.1 C1142.4,1817.7 1145.6,1817.9 1149.0,1819.0 C1152.4,1820.1 1155.5,1821.0 1159.0,1823.8 C1162.5,1826.6 1166.8,1831.4 1170.1,1836.1 C1173.4,1840.8 1175.7,1846.9 1179.1,1851.8 C1182.5,1856.7 1186.9,1860.3 1190.3,1865.2 C1193.7,1870.1 1195.9,1875.7 1199.3,1880.9 C1202.7,1886.1 1206.7,1892.1 1210.4,1896.6 C1214.1,1901.1 1217.5,1904.4 1221.6,1907.8 C1225.7,1911.2 1230.2,1913.0 1235.1,1916.7 C1239.9,1920.4 1246.2,1925.2 1250.7,1930.1 C1255.2,1934.9 1258.4,1938.9 1261.9,1945.8 C1265.5,1952.7 1268.5,1962.1 1272.0,1971.6 C1275.5,1981.1 1281.3,1997.7 1283.2,2002.9" stroke="#ff0000" stroke-width="3.6"/>
<path d="M249.0,2036.0a8.2,8.2 0 1,0 16.4,0a8.2,8.2 0 1,0 -16.4,0M259.4,2022.4a8.2,8.2 0 1,0 16.4,0a8.2,8.2 0 1,0 -16.4,0M270.6,1993.4a8.2,8.2 0 1,0 16.4,0a8.2,8.2 0 1,0 -16.4,0M280.8,1959.8a8.2,8.2 0 1,0 16.4,0a8.2,8.2 0 1,0 -16.4,0M291.1,1920.6a8.2,8.2 0 1,0 16.4,0a8.2,8.2 0 1,0 -16.4,0M301.4,1879.7a8.2,8.2 0 1,0 16.4,0a8.2,8.2 0 1,0 -16.4,0M311.9,1840.5a8.2,8.2 0 1,0 16.4,0a8.2,8.2 0 1,0 -16.4,0M322.2,1806.0a8.2,8.2 0 1,0 16.4,0a8.2,8.2 0 1,0 -16.4,0M332.7,1777.8a8.2,8.2 0 1,0 16.4,0a8.2,8.2 0 1,0 -16.4,0M342.3,1760.4a8.2,8.2 0 1,0 16.4,0a8.2,8.2 0 1,0 -16.4,0M352.7,1757.5a8.2,8.2 0 1,0 16.4,0a8.2,8.2 0 1,0 -16.4,0M364.0,1767.8a8.2,8.2 0 1,0 16.4,0a8.2,8.2 0 1,0 -16.4,0M374.8,1795.1a8.2,8.2 0 1,0 16.4,0a8.2,8.2 0 1,0 -16.4,0M384.6,1832.7a8.2,8.2 0 1,0 16.4,0a8.2,8.2 0 1,0 -16.4,0M395.3,1879.0a8.2,8.2 0 1,0 16.4,0a8.2,8.2 0 1,0 -16.4,0M405.8,1925.3a8.2,8.2 0 1,0 16.4,0a8.2,8.2 0 1,0 -16.4,0M416.1,1967.3a8.2,8.2 0 1,0 16.4,0a8.2,8.2 0 1,0 -16.4,0M425.2,1997.7a8.2,8.2 0 1,0 16.4,0a8.2,8.2 0 1,0 -16.4,0M435.6,2025.7a8.2,8.2 0 1,0 16.4,0a8.2,8.2 0 1,0 -16.4,0M445.9,2037.5a8.2,8.2 0 1,0 16.4,0a8.2,8.2 0 1,0 -16.4,0M456.3,2040.5a8.2,8.2 0 1,0 16.4,0a8.2,8.2 0 1,0 -16.4,0M466.7,2041.0a8.2,8.2 0 1,0 16.4,0a8.2,8.2 0 1,0 -16.4,0M477.0,2041.0a8.2,8.2 0 1,0 16.4,0a8.2,8.2 0 1,0 -16.4,0M487.4,2041.0a8.2,8.2 0 1,0 16.4,0a8.2,8.2 0 1,0 -16.4,0M497.8,2041.0a8.2,8.2 0 1,0 16.4,0a8.2,8.2 0 1,0 -16.4,0M508.1,2041.0a8.2,8.2 0 1,0 16.4,0a8.2,8.2 0 1,0 -16.4,0M518.5,2041.0a8.2,8.2 0 1,0 16.4,0a8.2,8.2 0 1,0 -16.4,0M528.9,2041.0a8.2,8.2 0 1,0 16.4,0a8.2,8.2 0 1,0 -16.4,0M539.2,2041.0a8.2,8.2 0 1,0 16.4,0a8.2,8.2 0 1,0 -16.4,0M549.6,2041.0a8.2,8.2 0 1,0 16.4,0a8.2,8.2 0 1,0 -16.4,0M559.9,2041.0a8.2,8.2 0 1,0 16.4,0a8.2,8.2 0 1,0 -16.4,0M570.3,2041.0a8.2,8.2 0 1,0 16.4,0a8.2,8.2 0 1,0 -16.4,0M580.7,2041.0a8.2,8.2 0 1,0 16.4,0a8.2,8.2 0 1,0 -16.4,0M591.0,2041.0a8.2,8.2 0 1,0 16.4,0a8.2,8.2 0 1,0 -16.4,0M601.4,2041.0a8.2,8.2 0 1,0 16.4,0a8.2,8.2 0 1,0 -16.4,0M611.8,2041.0a8.2,8.2 0 1,0 16.4,0a8.2,8.2 0 1,0 -16.4,0M622.1,2041.1a8.2,8.2 0 1,0 16.4,0a8.2,8.2 0 1,0 -16.4,0M632.5,2041.3a8.2,8.2 0 1,0 16.4,0a8.2,8.2 0 1,0 -16.4,0M642.9,2041.3a8.2,8.2 0 1,0 16.4,0a8.2,8.2 0 1,0 -16.4,0M653.2,2040.9a8.2,8.2 0 1,0 16.4,0a8.2,8.2 0 1,0 -16.4,0M663.6,2038.6a8.2,8.2 0 1,0 16.4,0a8.2,8.2 0 1,0 -16.4,0M674.0,2033.5a8.2,8.2 0 1,0 16.4,0a8.2,8.2 0 1,0 -16.4,0M684.3,2026.1a8.2,8.2 0 1,0 16.4,0a8.2,8.2 0 1,0 -16.4,0M694.7,2019.2a8.2,8.2 0 1,0 16.4,0a8.2,8.2 0 1,0 -16.4,0M705.1,2012.7a8.2,8.2 0 1,0 16.4,0a8.2,8.2 0 1,0 -16.4,0M715.4,2006.4a8.2,8.2 0 1,0 16.4,0a8.2,8.2 0 1,0 -16.4,0M725.8,2001.3a8.2,8.2 0 1,0 16.4,0a8.2,8.2 0 1,0 -16.4,0M736.2,1996.2a8.2,8.2 0 1,0 16.4,0a8.2,8.2 0 1,0 -16.4,0M746.5,1991.5a8.2,8.2 0 1,0 16.4,0a8.2,8.2 0 1,0 -16.4,0M756.9,1988.3a8.2,8.2 0 1,0 16.4,0a8.2,8.2 0 1,0 -16.4,0M767.2,1985.7a8.2,8.2 0 1,0 16.4,0a8.2,8.2 0 1,0 -16.4,0M777.6,1983.1a8.2,8.2 0 1,0 16.4,0a8.2,8.2 0 1,0 -16.4,0M788.0,1980.5a8.2,8.2 0 1,0 16.4,0a8.2,8.2 0 1,0 -16.4,0M798.3,1978.0a8.2,8.2 0 1,0 16.4,0a8.2,8.2 0 1,0 -16.4,0M808.7,1975.5a8.2,8.2 0 1,0 16.4,0a8.2,8.2 0 1,0 -16.4,0M819.1,1970.8a8.2,8.2 0 1,0 16.4,0a8.2,8.2 0 1,0 -16.4,0M829.4,1964.5a8.2,8.2 0 1,0 16.4,0a8.2,8.2 0 1,0 -16.4,0M839.8,1957.7a8.2,8.2 0 1,0 16.4,0a8.2,8.2 0 1,0 -16.4,0M850.2,1951.7a8.2,8.2 0 1,0 16.4,0a8.2,8.2 0 1,0 -16.4,0M860.5,1944.8a8.2,8.2 0 1,0 16.4,0a8.2,8.2 0 1,0 -16.4,0M870.9,1938.4a8.2,8.2 0 1,0 16.4,0a8.2,8.2 0 1,0 -16.4,0M881.3,1932.5a8.2,8.2 0 1,0 16.4,0a8.2,8.2 0 1,0 -16.4,0M891.6,1926.3a8.2,8.2 0 1,0 16.4,0a8.2,8.2 0 1,0 -16.4,0M904.3,1916.7a8.2,8.2 0 1,0 16.4,0a8.2,8.2 0 1,0 -16.4,0M912.4,1907.8a8.2,8.2 0 1,0 16.4,0a8.2,8.2 0 1,0 -16.4,0M924.5,1889.8a8.2,8.2 0 1,0 16.4,0a8.2,8.2 0 1,0 -16.4,0M933.1,1872.5a8.2,8.2 0 1,0 16.4,0a8.2,8.2 0 1,0 -16.4,0M943.5,1854.7a8.2,8.2 0 1,0 16.4,0a8.2,8.2 0 1,0 -16.4,0M955.8,1842.8a8.2,8.2 0 1,0 16.4,0a8.2,8.2 0 1,0 -16.4,0M964.2,1836.8a8.2,8.2 0 1,0 16.4,0a8.2,8.2 0 1,0 -16.4,0M974.5,1832.0a8.2,8.2 0 1,0 16.4,0a8.2,8.2 0 1,0 -16.4,0M984.9,1828.3a8.2,8.2 0 1,0 16.4,0a8.2,8.2 0 1,0 -16.4,0M995.3,1822.1a8.2,8.2 0 1,0 16.4,0a8.2,8.2 0 1,0 -16.4,0M1005.6,1818.0a8.2,8.2 0 1,0 16.4,0a8.2,8.2 0 1,0 -16.4,0M1016.0,1815.8a8.2,8.2 0 1,0 16.4,0a8.2,8.2 0 1,0 -16.4,0M1026.4,1825.7a8.2,8.2 0 1,0 16.4,0a8.2,8.2 0 1,0 -16.4,0M1036.7,1833.5a8.2,8.2 0 1,0 16.4,0a8.2,8.2 0 1,0 -16.4,0M1047.1,1831.0a8.2,8.2 0 1,0 16.4,0a8.2,8.2 0 1,0 -16.4,0M1057.5,1822.4a8.2,8.2 0 1,0 16.4,0a8.2,8.2 0 1,0 -16.4,0M1065.7,1813.7a8.2,8.2 0 1,0 16.4,0a8.2,8.2 0 1,0 -16.4,0M1078.2,1803.0a8.2,8.2 0 1,0 16.4,0a8.2,8.2 0 1,0 -16.4,0M1088.6,1800.3a8.2,8.2 0 1,0 16.4,0a8.2,8.2 0 1,0 -16.4,0M1098.9,1805.1a8.2,8.2 0 1,0 16.4,0a8.2,8.2 0 1,0 -16.4,0M1109.3,1811.6a8.2,8.2 0 1,0 16.4,0a8.2,8.2 0 1,0 -16.4,0M1119.7,1815.6a8.2,8.2 0 1,0 16.4,0a8.2,8.2 0 1,0 -16.4,0M1130.0,1817.0a8.2,8.2 0 1,0 16.4,0a8.2,8.2 0 1,0 -16.4,0M1140.4,1818.9a8.2,8.2 0 1,0 16.4,0a8.2,8.2 0 1,0 -16.4,0M1150.8,1823.8a8.2,8.2 0 1,0 16.4,0a8.2,8.2 0 1,0 -16.4,0M1161.1,1835.0a8.2,8.2 0 1,0 16.4,0a8.2,8.2 0 1,0 -16.4,0M1171.5,1852.6a8.2,8.2 0 1,0 16.4,0a8.2,8.2 0 1,0 -16.4,0M1181.8,1864.8a8.2,8.2 0 1,0 16.4,0a8.2,8.2 0 1,0 -16.4,0M1191.1,1880.9a8.2,8.2 0 1,0 16.4,0a8.2,8.2 0 1,0 -16.4,0M1202.6,1897.1a8.2,8.2 0 1,0 16.4,0a8.2,8.2 0 1,0 -16.4,0M1212.9,1907.4a8.2,8.2 0 1,0 16.4,0a8.2,8.2 0 1,0 -16.4,0M1223.3,1914.2a8.2,8.2 0 1,0 16.4,0a8.2,8.2 0 1,0 -16.4,0M1233.7,1922.0a8.2,8.2 0 1,0 16.4,0a8.2,8.2 0 1,0 -16.4,0M1242.5,1930.1a8.2,8.2 0 1,0 16.4,0a8.2,8.2 0 1,0 -16.4,0M1254.4,1947.2a8.2,8.2 0 1,0 16.4,0a8.2,8.2 0 1,0 -16.4,0M1263.8,1971.6a8.2,8.2 0 1,0 16.4,0a8.2,8.2 0 1,0 -16.4,0M1275.1,2002.9a8.2,8.2 0 1,0 16.4,0a8.2,8.2 0 1,0 -16.4,0" stroke="#ff0000" stroke-width="1.5" fill="#fff" stroke-dasharray="3.2,1.6"/>
<path d="M255.0,2044.3 L290.8,2044.3 L326.5,2044.3 L362.2,2044.3 L398.0,2044.3 L410.3,2032.6 L420.6,2021.0 L429.8,2007.4 L442.0,1990.6 L452.3,1972.5 L463.5,1952.3 L473.6,1935.5 L483.7,1919.9 L493.7,1908.7 L504.9,1900.8 L513.9,1897.9 L524.0,1897.0 L534.0,1897.5 L545.2,1898.6 L555.3,1899.7 L565.4,1901.9 L575.4,1903.1 L586.6,1906.4 L596.7,1908.7 L606.8,1912.0 L616.9,1914.3 L628.1,1917.6 L638.1,1921.0 L648.2,1925.4 L658.3,1928.8 L669.5,1931.0 L679.6,1932.2 L689.6,1933.3 L699.7,1932.2 L710.9,1931.0 L721.0,1931.5 L731.2,1932.4 L742.4,1935.7 L753.6,1940.2 L764.8,1946.9 L776.0,1952.5 L787.2,1958.1 L798.4,1962.6 L809.6,1964.9 L820.7,1966.0 L831.9,1968.2 L843.1,1970.4 L854.3,1974.9 L865.5,1978.3 L876.7,1981.6 L887.9,1982.8 L899.1,1981.6 L910.3,1976.0 L921.5,1969.3 L932.7,1961.5 L943.9,1954.8 L955.1,1946.9 L966.3,1943.6 L977.5,1942.5 L988.7,1943.6 L999.9,1943.6 L1013.4,1941.5 L1024.6,1934.6 L1033.6,1922.6 L1044.8,1904.4 L1054.9,1880.9 L1064.9,1855.1 L1076.1,1836.1 L1086.2,1828.3 L1096.3,1842.8 L1107.0,1877.5 L1112.2,1903.8 L1117.5,1930.1 L1122.5,1959.2 L1127.6,1988.4 L1132.7,2009.7 L1137.7,2030.9 L1145.5,2044.3 L1178.8,2044.3 L1212.0,2044.3 L1220.4,2021.9 L1223.7,1990.2 L1227.1,1958.4 L1230.4,1926.7 L1232.2,1892.8 L1234.0,1858.9 L1235.8,1825.0 L1237.6,1791.1 L1239.4,1757.2 L1241.2,1723.3 L1242.5,1687.9 L1243.8,1652.4 L1245.1,1617.0 L1246.4,1581.5 L1247.7,1546.1 L1249.0,1510.7 L1250.3,1475.2 L1251.6,1439.8 L1253.0,1400.5 L1254.4,1361.3 L1255.8,1322.0 L1257.3,1282.7 L1258.7,1243.4 L1260.1,1204.2 L1261.5,1164.9" stroke="#0000ff" stroke-width="3.4"/>
<path d="M1251.6,1439.8 L1261.5,1164.9 C1263.8,1145 1266.5,1134.5 1269.3,1134.5 C1272,1134.5 1273.6,1146 1274.4,1158 L1283.2,1344.6" stroke="#0000ff" stroke-width="3.4"/>
<path d="M248.9,2044.3a8.3,8.3 0 1,0 16.6,0a8.3,8.3 0 1,0 -16.6,0M259.3,2044.3a8.3,8.3 0 1,0 16.6,0a8.3,8.3 0 1,0 -16.6,0M269.6,2044.3a8.3,8.3 0 1,0 16.6,0a8.3,8.3 0 1,0 -16.6,0M280.0,2044.3a8.3,8.3 0 1,0 16.6,0a8.3,8.3 0 1,0 -16.6,0M290.4,2044.3a8.3,8.3 0 1,0 16.6,0a8.3,8.3 0 1,0 -16.6,0M300.7,2044.3a8.3,8.3 0 1,0 16.6,0a8.3,8.3 0 1,0 -16.6,0M311.1,2044.3a8.3,8.3 0 1,0 16.6,0a8.3,8.3 0 1,0 -16.6,0M321.5,2044.3a8.3,8.3 0 1,0 16.6,0a8.3,8.3 0 1,0 -16.6,0M331.8,2044.3a8.3,8.3 0 1,0 16.6,0a8.3,8.3 0 1,0 -16.6,0M342.2,2044.3a8.3,8.3 0 1,0 16.6,0a8.3,8.3 0 1,0 -16.6,0M352.6,2044.3a8.3,8.3 0 1,0 16.6,0a8.3,8.3 0 1,0 -16.6,0M362.9,2044.6a8.3,8.3 0 1,0 16.6,0a8.3,8.3 0 1,0 -16.6,0M373.3,2045.0a8.3,8.3 0 1,0 16.6,0a8.3,8.3 0 1,0 -16.6,0M383.6,2045.1a8.3,8.3 0 1,0 16.6,0a8.3,8.3 0 1,0 -16.6,0M394.0,2042.5a8.3,8.3 0 1,0 16.6,0a8.3,8.3 0 1,0 -16.6,0M402.0,2032.6a8.3,8.3 0 1,0 16.6,0a8.3,8.3 0 1,0 -16.6,0M412.3,2021.0a8.3,8.3 0 1,0 16.6,0a8.3,8.3 0 1,0 -16.6,0M425.1,2002.5a8.3,8.3 0 1,0 16.6,0a8.3,8.3 0 1,0 -16.6,0M433.7,1990.6a8.3,8.3 0 1,0 16.6,0a8.3,8.3 0 1,0 -16.6,0M444.0,1972.5a8.3,8.3 0 1,0 16.6,0a8.3,8.3 0 1,0 -16.6,0M455.2,1952.3a8.3,8.3 0 1,0 16.6,0a8.3,8.3 0 1,0 -16.6,0M465.3,1935.5a8.3,8.3 0 1,0 16.6,0a8.3,8.3 0 1,0 -16.6,0M475.4,1919.9a8.3,8.3 0 1,0 16.6,0a8.3,8.3 0 1,0 -16.6,0M485.4,1908.7a8.3,8.3 0 1,0 16.6,0a8.3,8.3 0 1,0 -16.6,0M497.7,1900.3a8.3,8.3 0 1,0 16.6,0a8.3,8.3 0 1,0 -16.6,0M508.0,1897.5a8.3,8.3 0 1,0 16.6,0a8.3,8.3 0 1,0 -16.6,0M518.4,1897.0a8.3,8.3 0 1,0 16.6,0a8.3,8.3 0 1,0 -16.6,0M528.8,1897.8a8.3,8.3 0 1,0 16.6,0a8.3,8.3 0 1,0 -16.6,0M539.1,1898.8a8.3,8.3 0 1,0 16.6,0a8.3,8.3 0 1,0 -16.6,0M549.5,1900.2a8.3,8.3 0 1,0 16.6,0a8.3,8.3 0 1,0 -16.6,0M559.9,1902.2a8.3,8.3 0 1,0 16.6,0a8.3,8.3 0 1,0 -16.6,0M570.2,1903.9a8.3,8.3 0 1,0 16.6,0a8.3,8.3 0 1,0 -16.6,0M580.6,1907.0a8.3,8.3 0 1,0 16.6,0a8.3,8.3 0 1,0 -16.6,0M590.9,1909.5a8.3,8.3 0 1,0 16.6,0a8.3,8.3 0 1,0 -16.6,0M601.3,1912.7a8.3,8.3 0 1,0 16.6,0a8.3,8.3 0 1,0 -16.6,0M611.7,1915.1a8.3,8.3 0 1,0 16.6,0a8.3,8.3 0 1,0 -16.6,0M622.0,1918.3a8.3,8.3 0 1,0 16.6,0a8.3,8.3 0 1,0 -16.6,0M632.4,1922.1a8.3,8.3 0 1,0 16.6,0a8.3,8.3 0 1,0 -16.6,0M642.8,1926.5a8.3,8.3 0 1,0 16.6,0a8.3,8.3 0 1,0 -16.6,0M653.1,1929.5a8.3,8.3 0 1,0 16.6,0a8.3,8.3 0 1,0 -16.6,0M663.5,1931.3a8.3,8.3 0 1,0 16.6,0a8.3,8.3 0 1,0 -16.6,0M673.9,1932.5a8.3,8.3 0 1,0 16.6,0a8.3,8.3 0 1,0 -16.6,0M684.2,1933.1a8.3,8.3 0 1,0 16.6,0a8.3,8.3 0 1,0 -16.6,0M694.6,1931.8a8.3,8.3 0 1,0 16.6,0a8.3,8.3 0 1,0 -16.6,0M705.0,1931.0a8.3,8.3 0 1,0 16.6,0a8.3,8.3 0 1,0 -16.6,0M715.3,1931.6a8.3,8.3 0 1,0 16.6,0a8.3,8.3 0 1,0 -16.6,0M725.7,1933.0a8.3,8.3 0 1,0 16.6,0a8.3,8.3 0 1,0 -16.6,0M736.1,1936.4a8.3,8.3 0 1,0 16.6,0a8.3,8.3 0 1,0 -16.6,0M746.4,1940.8a8.3,8.3 0 1,0 16.6,0a8.3,8.3 0 1,0 -16.6,0M756.8,1947.1a8.3,8.3 0 1,0 16.6,0a8.3,8.3 0 1,0 -16.6,0M767.2,1952.2a8.3,8.3 0 1,0 16.6,0a8.3,8.3 0 1,0 -16.6,0M777.5,1957.5a8.3,8.3 0 1,0 16.6,0a8.3,8.3 0 1,0 -16.6,0M787.9,1961.9a8.3,8.3 0 1,0 16.6,0a8.3,8.3 0 1,0 -16.6,0M798.2,1964.4a8.3,8.3 0 1,0 16.6,0a8.3,8.3 0 1,0 -16.6,0M808.6,1965.6a8.3,8.3 0 1,0 16.6,0a8.3,8.3 0 1,0 -16.6,0M819.0,1967.2a8.3,8.3 0 1,0 16.6,0a8.3,8.3 0 1,0 -16.6,0M829.3,1969.2a8.3,8.3 0 1,0 16.6,0a8.3,8.3 0 1,0 -16.6,0M839.7,1972.3a8.3,8.3 0 1,0 16.6,0a8.3,8.3 0 1,0 -16.6,0M850.1,1976.2a8.3,8.3 0 1,0 16.6,0a8.3,8.3 0 1,0 -16.6,0M860.4,1979.3a8.3,8.3 0 1,0 16.6,0a8.3,8.3 0 1,0 -16.6,0M870.8,1982.0a8.3,8.3 0 1,0 16.6,0a8.3,8.3 0 1,0 -16.6,0M881.2,1982.8a8.3,8.3 0 1,0 16.6,0a8.3,8.3 0 1,0 -16.6,0M891.5,1981.4a8.3,8.3 0 1,0 16.6,0a8.3,8.3 0 1,0 -16.6,0M901.9,1976.1a8.3,8.3 0 1,0 16.6,0a8.3,8.3 0 1,0 -16.6,0M912.3,1969.9a8.3,8.3 0 1,0 16.6,0a8.3,8.3 0 1,0 -16.6,0M922.6,1962.7a8.3,8.3 0 1,0 16.6,0a8.3,8.3 0 1,0 -16.6,0M935.6,1954.8a8.3,8.3 0 1,0 16.6,0a8.3,8.3 0 1,0 -16.6,0M946.8,1946.9a8.3,8.3 0 1,0 16.6,0a8.3,8.3 0 1,0 -16.6,0M953.7,1944.5a8.3,8.3 0 1,0 16.6,0a8.3,8.3 0 1,0 -16.6,0M964.1,1942.7a8.3,8.3 0 1,0 16.6,0a8.3,8.3 0 1,0 -16.6,0M974.5,1942.9a8.3,8.3 0 1,0 16.6,0a8.3,8.3 0 1,0 -16.6,0M984.8,1943.8a8.3,8.3 0 1,0 16.6,0a8.3,8.3 0 1,0 -16.6,0M995.2,1943.3a8.3,8.3 0 1,0 16.6,0a8.3,8.3 0 1,0 -16.6,0M1005.5,1941.3a8.3,8.3 0 1,0 16.6,0a8.3,8.3 0 1,0 -16.6,0M1015.9,1935.0a8.3,8.3 0 1,0 16.6,0a8.3,8.3 0 1,0 -16.6,0M1026.3,1921.1a8.3,8.3 0 1,0 16.6,0a8.3,8.3 0 1,0 -16.6,0M1036.6,1904.1a8.3,8.3 0 1,0 16.6,0a8.3,8.3 0 1,0 -16.6,0M1047.0,1879.9a8.3,8.3 0 1,0 16.6,0a8.3,8.3 0 1,0 -16.6,0M1056.6,1855.1a8.3,8.3 0 1,0 16.6,0a8.3,8.3 0 1,0 -16.6,0M1067.7,1836.2a8.3,8.3 0 1,0 16.6,0a8.3,8.3 0 1,0 -16.6,0M1078.1,1828.4a8.3,8.3 0 1,0 16.6,0a8.3,8.3 0 1,0 -16.6,0M1088.5,1843.9a8.3,8.3 0 1,0 16.6,0a8.3,8.3 0 1,0 -16.6,0M1098.8,1878.0a8.3,8.3 0 1,0 16.6,0a8.3,8.3 0 1,0 -16.6,0M1109.2,1930.1a8.3,8.3 0 1,0 16.6,0a8.3,8.3 0 1,0 -16.6,0M1119.6,1989.7a8.3,8.3 0 1,0 16.6,0a8.3,8.3 0 1,0 -16.6,0M1129.4,2030.9a8.3,8.3 0 1,0 16.6,0a8.3,8.3 0 1,0 -16.6,0M1140.3,2045.0a8.3,8.3 0 1,0 16.6,0a8.3,8.3 0 1,0 -16.6,0M1150.7,2045.2a8.3,8.3 0 1,0 16.6,0a8.3,8.3 0 1,0 -16.6,0M1161.0,2044.6a8.3,8.3 0 1,0 16.6,0a8.3,8.3 0 1,0 -16.6,0M1171.4,2044.3a8.3,8.3 0 1,0 16.6,0a8.3,8.3 0 1,0 -16.6,0M1181.8,2045.1a8.3,8.3 0 1,0 16.6,0a8.3,8.3 0 1,0 -16.6,0M1192.1,2045.9a8.3,8.3 0 1,0 16.6,0a8.3,8.3 0 1,0 -16.6,0M1202.5,2044.8a8.3,8.3 0 1,0 16.6,0a8.3,8.3 0 1,0 -16.6,0M1212.1,2021.9a8.3,8.3 0 1,0 16.6,0a8.3,8.3 0 1,0 -16.6,0M1223.9,1892.8a8.3,8.3 0 1,0 16.6,0a8.3,8.3 0 1,0 -16.6,0M1234.2,1687.9a8.3,8.3 0 1,0 16.6,0a8.3,8.3 0 1,0 -16.6,0M1243.3,1439.8a8.3,8.3 0 1,0 16.6,0a8.3,8.3 0 1,0 -16.6,0M1253.2,1164.9a8.3,8.3 0 1,0 16.6,0a8.3,8.3 0 1,0 -16.6,0M1275.0,1344.6a8.3,8.3 0 1,0 16.6,0a8.3,8.3 0 1,0 -16.6,0" fill="#0000ff" stroke="none"/>
<path d="M253.7,2039.8h3v3h-3zM264.1,2039.8h3v3h-3zM274.4,2039.8h3v3h-3zM284.8,2039.8h3v3h-3zM295.2,2039.8h3v3h-3zM305.5,2039.8h3v3h-3zM315.9,2039.8h3v3h-3zM326.3,2039.8h3v3h-3zM336.6,2039.8h3v3h-3zM347.0,2039.8h3v3h-3zM357.4,2039.8h3v3h-3zM367.7,2040.1h3v3h-3zM378.1,2040.5h3v3h-3zM388.4,2040.6h3v3h-3zM398.8,2038.0h3v3h-3zM406.8,2028.1h3v3h-3zM417.1,2016.5h3v3h-3zM429.9,1998.0h3v3h-3zM438.5,1986.1h3v3h-3zM448.8,1968.0h3v3h-3zM460.0,1947.8h3v3h-3zM470.1,1931.0h3v3h-3zM480.2,1915.4h3v3h-3zM490.2,1904.2h3v3h-3zM502.5,1895.8h3v3h-3zM512.8,1893.0h3v3h-3zM523.2,1892.5h3v3h-3zM533.6,1893.3h3v3h-3zM543.9,1894.3h3v3h-3zM554.3,1895.7h3v3h-3zM564.6,1897.7h3v3h-3zM575.0,1899.4h3v3h-3zM585.4,1902.5h3v3h-3zM595.7,1905.0h3v3h-3zM606.1,1908.2h3v3h-3zM616.5,1910.6h3v3h-3zM626.8,1913.8h3v3h-3zM637.2,1917.6h3v3h-3zM647.6,1922.0h3v3h-3zM657.9,1925.0h3v3h-3zM668.3,1926.8h3v3h-3zM678.7,1928.0h3v3h-3zM689.0,1928.6h3v3h-3zM699.4,1927.3h3v3h-3zM709.8,1926.5h3v3h-3zM720.1,1927.1h3v3h-3zM730.5,1928.5h3v3h-3zM740.9,1931.9h3v3h-3zM751.2,1936.3h3v3h-3zM761.6,1942.6h3v3h-3zM772.0,1947.7h3v3h-3zM782.3,1953.0h3v3h-3zM792.7,1957.4h3v3h-3zM803.0,1959.9h3v3h-3zM813.4,1961.1h3v3h-3zM823.8,1962.7h3v3h-3zM834.1,1964.7h3v3h-3zM844.5,1967.8h3v3h-3zM854.9,1971.7h3v3h-3zM865.2,1974.8h3v3h-3zM875.6,1977.5h3v3h-3zM886.0,1978.3h3v3h-3zM896.3,1976.9h3v3h-3zM906.7,1971.6h3v3h-3zM917.1,1965.4h3v3h-3zM927.4,1958.2h3v3h-3zM940.4,1950.3h3v3h-3zM951.6,1942.4h3v3h-3zM958.5,1940.0h3v3h-3zM968.9,1938.2h3v3h-3zM979.2,1938.4h3v3h-3zM989.6,1939.3h3v3h-3zM1000.0,1938.8h3v3h-3zM1010.3,1936.8h3v3h-3zM1020.7,1930.5h3v3h-3zM1031.1,1916.6h3v3h-3zM1041.4,1899.6h3v3h-3zM1051.8,1875.4h3v3h-3zM1061.4,1850.6h3v3h-3zM1072.5,1831.7h3v3h-3zM1082.9,1823.9h3v3h-3zM1093.3,1839.4h3v3h-3zM1103.6,1873.5h3v3h-3zM1114.0,1925.6h3v3h-3zM1124.4,1985.2h3v3h-3zM1134.2,2026.4h3v3h-3zM1145.1,2040.5h3v3h-3zM1155.5,2040.7h3v3h-3zM1165.8,2040.1h3v3h-3zM1176.2,2039.8h3v3h-3zM1186.5,2040.6h3v3h-3zM1196.9,2041.4h3v3h-3zM1207.3,2040.3h3v3h-3zM1216.9,2017.4h3v3h-3zM1228.7,1888.3h3v3h-3zM1239.0,1683.4h3v3h-3zM1248.1,1435.3h3v3h-3zM1258.0,1160.4h3v3h-3zM1279.8,1340.1h3v3h-3z" fill="#a8a8ff" stroke="none"/>
</g>
<g id="TXT" font-family='"Liberation Sans", sans-serif' fill="#000" stroke="#fcfcfd" stroke-width="0.7">
<text id="ty0" x="121.96" y="982.60" font-size="42.0" textLength="83.22" lengthAdjust="spacingAndGlyphs">0.00</text>
<text id="ty1" x="121.96" y="847.50" font-size="42.0" textLength="83.22" lengthAdjust="spacingAndGlyphs">0.05</text>
<text id="ty2" x="121.96" y="712.40" font-size="42.0" textLength="83.22" lengthAdjust="spacingAndGlyphs">0.10</text>
<text id="ty3" x="121.96" y="577.30" font-size="42.0" textLength="83.22" lengthAdjust="spacingAndGlyphs">0.15</text>
<text id="ty4" x="121.96" y="442.20" font-size="42.0" textLength="83.22" lengthAdjust="spacingAndGlyphs">0.20</text>
<text id="ty5" x="121.96" y="307.10" font-size="42.0" textLength="83.22" lengthAdjust="spacingAndGlyphs">0.25</text>
<text id="ty6" x="121.96" y="172.00" font-size="42.0" textLength="83.22" lengthAdjust="spacingAndGlyphs">0.30</text>
<text id="tx03" x="197.84" y="1027.80" font-size="39.5" textLength="59.44" lengthAdjust="spacingAndGlyphs">0.3</text>
<text id="tx1" x="435.44" y="1027.80" font-size="41.1">1</text>
<text id="tx10" x="840.35" y="1027.80" font-size="39.5" textLength="47.75" lengthAdjust="spacingAndGlyphs">10</text>
<text id="tx100" x="1248.31" y="1027.80" font-size="39.5" textLength="70.74" lengthAdjust="spacingAndGlyphs">100</text>
<text id="tylab" transform="translate(84.50,729.23) rotate(-90)" font-size="54.0" textLength="362.48" lengthAdjust="spacingAndGlyphs" xml:space="preserve">IPSD  (arb.un.)</text>
<text id="txlab" x="498.65" y="1112.70" font-size="53.0" textLength="531.16" lengthAdjust="spacingAndGlyphs" xml:space="preserve">Pore  Half-width  (nm)</text>
<text id="ta" x="711.33" y="1180.70" font-size="51.0" textLength="71.19" lengthAdjust="spacingAndGlyphs">(a)</text>
<text id="tlDFT" x="806.63" y="56.30" font-size="41.5" textLength="84.11" lengthAdjust="spacingAndGlyphs">DFT</text>
<text id="tln1" x="810.93" y="107.40" font-size="43.2">1</text>
<text id="tll1" x="936.36" y="107.40" font-size="41.5" textLength="58.51" lengthAdjust="spacingAndGlyphs">Slit</text>
<text id="tln2" x="807.43" y="157.70" font-size="41.5" textLength="25.92" lengthAdjust="spacingAndGlyphs">2</text>
<text id="tll2" x="936.36" y="157.70" font-size="41.5" textLength="193.91" lengthAdjust="spacingAndGlyphs">Cylindrical</text>
<text id="tln3" x="808.67" y="208.80" font-size="41.5" textLength="24.55" lengthAdjust="spacingAndGlyphs">3</text>
<text id="tll3" x="938.38" y="208.80" font-size="41.5" textLength="103.38" lengthAdjust="spacingAndGlyphs">Voids</text>
<text id="tln4" x="809.79" y="260.50" font-size="41.5" textLength="23.32" lengthAdjust="spacingAndGlyphs">4</text>
<text id="tll4" x="935.32" y="260.50" font-size="41.5" textLength="201.97" lengthAdjust="spacingAndGlyphs">MND (mix)</text>
<text id="tln5" x="808.67" y="310.70" font-size="41.5" textLength="24.55" lengthAdjust="spacingAndGlyphs">5</text>
<text id="tll5" x="935.34" y="310.70" font-size="41.5" textLength="289.33" lengthAdjust="spacingAndGlyphs">NLDFT (slit/cyl)</text>
<text id="tln6" x="807.43" y="361.10" font-size="41.5" textLength="25.92" lengthAdjust="spacingAndGlyphs">6</text>
<text id="tll6" x="937.37" y="361.10" font-size="41.5" textLength="233.25" lengthAdjust="spacingAndGlyphs">QSDFT (slit)</text>
<text id="tc2" x="331.75" y="122.80" font-size="41.5" textLength="27.33" lengthAdjust="spacingAndGlyphs">2</text>
<text id="tc1" x="501.93" y="295.20" font-size="43.2">1</text>
<text id="tc3" x="727.90" y="440.40" font-size="41.5" textLength="23.09" lengthAdjust="spacingAndGlyphs">3</text>
<text id="tc4" x="532.37" y="675.80" font-size="41.5" textLength="23.79" lengthAdjust="spacingAndGlyphs">4</text>
<text id="tc5" x="469.38" y="938.80" font-size="41.5" textLength="24.43" lengthAdjust="spacingAndGlyphs">5</text>
<text id="tc6" x="347.67" y="734.60" font-size="41.5" textLength="25.66" lengthAdjust="spacingAndGlyphs">6</text>
<text id="by0" x="105.02" y="2057.00" font-size="49.0" textLength="94.22" lengthAdjust="spacingAndGlyphs">0.00</text>
<text id="by1" x="105.00" y="1869.60" font-size="49.0" textLength="95.27" lengthAdjust="spacingAndGlyphs">0.02</text>
<text id="by2" x="105.02" y="1682.20" font-size="49.0" textLength="94.22" lengthAdjust="spacingAndGlyphs">0.04</text>
<text id="by3" x="105.02" y="1494.80" font-size="49.0" textLength="94.22" lengthAdjust="spacingAndGlyphs">0.06</text>
<text id="by4" x="105.02" y="1307.40" font-size="49.0" textLength="94.22" lengthAdjust="spacingAndGlyphs">0.08</text>
<text id="bx03" x="195.03" y="2111.80" font-size="48.0" textLength="65.87" lengthAdjust="spacingAndGlyphs">0.3</text>
<text id="bx1" x="432.84" y="2111.80" font-size="49.9">1</text>
<text id="bx10" x="838.37" y="2111.80" font-size="48.0" textLength="53.73" lengthAdjust="spacingAndGlyphs">10</text>
<text id="bx100" x="1244.08" y="2111.80" font-size="48.0" textLength="78.47" lengthAdjust="spacingAndGlyphs">100</text>
<text id="bylab" transform="translate(65.00,1792.60) rotate(-90)" font-size="52.0" textLength="347.00" lengthAdjust="spacingAndGlyphs" xml:space="preserve">IPSD  (ard.un.)</text>
<text id="bxlab" x="578.66" y="2179.30" font-size="53.0" textLength="529.44" lengthAdjust="spacingAndGlyphs" xml:space="preserve">Pore  Half-width  (nm)</text>
<text id="bb" x="710.37" y="2246.30" font-size="51.0" textLength="72.09" lengthAdjust="spacingAndGlyphs">(b)</text>
<text id="blDFT" x="629.28" y="1439.30" font-size="47.5" textLength="95.10" lengthAdjust="spacingAndGlyphs">DFT</text>
<text id="bln1" x="633.31" y="1497.50" font-size="49.4">1</text>
<text id="bln2" x="629.17" y="1555.70" font-size="47.5" textLength="29.32" lengthAdjust="spacingAndGlyphs">2</text>
<text id="bln3" x="629.17" y="1613.90" font-size="47.5" textLength="29.32" lengthAdjust="spacingAndGlyphs">3</text>
<text id="bll1" x="776.67" y="1497.50" font-size="47.5" textLength="66.75" lengthAdjust="spacingAndGlyphs">Slit</text>
<text id="bll2" x="776.68" y="1555.70" font-size="47.5" textLength="220.54" lengthAdjust="spacingAndGlyphs">Cylindrical</text>
<text id="bll3" x="778.68" y="1613.90" font-size="47.5" textLength="118.16" lengthAdjust="spacingAndGlyphs">Voids</text>
<text id="bc1" x="405.10" y="1656.90" font-size="51.5">1</text>
<text id="bc3" x="629.95" y="1895.20" font-size="49.5" textLength="28.03" lengthAdjust="spacingAndGlyphs">3</text>
<text id="bc2" x="1092.68" y="1786.90" font-size="49.5" textLength="28.66" lengthAdjust="spacingAndGlyphs">2</text>
</g>
<g fill="#fcfcfd"><rect x="160.26" y="707.96" width="8.30" height="5.04"/><rect x="171.95" y="707.96" width="7.97" height="5.04"/><rect x="160.26" y="572.86" width="8.30" height="5.04"/><rect x="171.95" y="572.86" width="7.97" height="5.04"/><rect x="437.97" y="1023.43" width="8.01" height="4.97"/><rect x="449.21" y="1023.43" width="7.68" height="4.97"/><rect x="843.02" y="1023.55" width="8.33" height="4.85"/><rect x="854.74" y="1023.55" width="7.99" height="4.85"/><rect x="1250.94" y="1023.55" width="8.23" height="4.85"/><rect x="1262.52" y="1023.55" width="7.90" height="4.85"/><rect x="813.62" y="102.87" width="8.37" height="5.13"/><rect x="825.41" y="102.87" width="8.04" height="5.13"/><rect x="504.62" y="290.67" width="8.37" height="5.13"/><rect x="516.41" y="290.67" width="8.04" height="5.13"/><rect x="436.04" y="2106.77" width="9.55" height="5.63"/><rect x="449.60" y="2106.77" width="9.16" height="5.63"/><rect x="841.45" y="2106.91" width="9.27" height="5.49"/><rect x="854.59" y="2106.91" width="8.89" height="5.49"/><rect x="1247.06" y="2106.91" width="9.05" height="5.49"/><rect x="1259.87" y="2106.91" width="8.68" height="5.49"/><rect x="636.47" y="1492.51" width="9.46" height="5.59"/><rect x="649.90" y="1492.51" width="9.07" height="5.59"/><rect x="408.42" y="1651.75" width="9.83" height="5.75"/><rect x="422.41" y="1651.75" width="9.43" height="5.75"/></g>
</svg>
</body></html>
